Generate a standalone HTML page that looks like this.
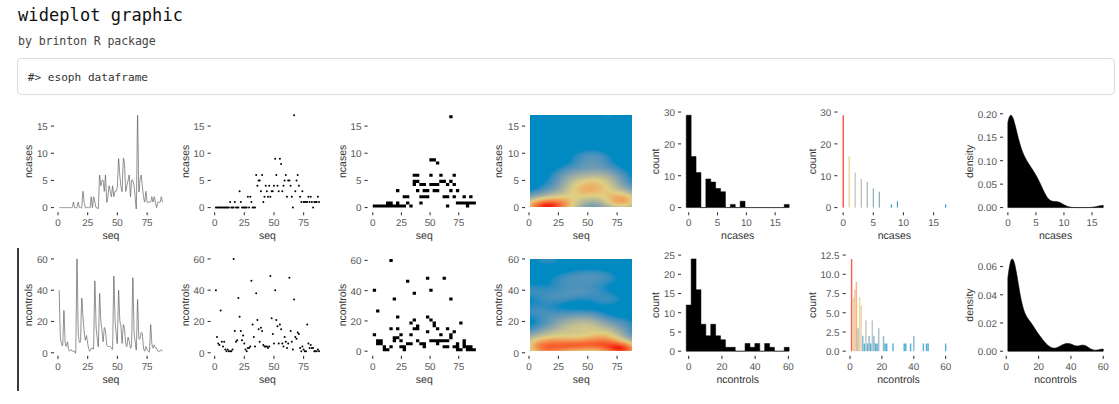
<!DOCTYPE html>
<html><head><meta charset="utf-8"><title>wideplot graphic</title>
<style>
html,body{margin:0;padding:0;background:#fff;}
body{width:1119px;height:404px;position:relative;overflow:hidden;}
h1{position:absolute;left:18px;top:7.3px;margin:0;font:normal 17px/1 "DejaVu Sans Mono","Liberation Mono",monospace;letter-spacing:0.08px;color:#111;white-space:pre;}
.sub{position:absolute;left:18px;top:36.4px;margin:0;font:11.6px/1 "DejaVu Sans Mono","Liberation Mono",monospace;letter-spacing:-0.1px;color:#444;white-space:pre;}
.code{position:absolute;left:17px;top:58px;width:1096px;height:35px;border:1px solid #dcdcdc;border-radius:4px;background:#fff;}
.code span{position:absolute;left:9.8px;top:12.5px;font:11.1px/1 "DejaVu Sans Mono","Liberation Mono",monospace;color:#333;white-space:pre;}
.vbar{position:absolute;left:17px;top:248px;width:2px;height:143px;background:#3a3a3a;}
.hm{position:absolute;display:flex;flex-direction:column;}
.hm i{display:block;flex:1 1 0;}
svg{position:absolute;left:0;top:0;}
svg text{font-family:"Liberation Sans",Arial,sans-serif;text-rendering:geometricPrecision;}
.yl{font-size:9.8px;fill:#555555;text-anchor:end;}
.xl{font-size:9.8px;fill:#555555;text-anchor:middle;}
.tt{font-size:10.5px;fill:#333333;text-anchor:middle;}
.ln{fill:none;stroke:#555;stroke-width:0.65;stroke-linejoin:round;}
</style></head><body>
<h1 id="t1">wideplot graphic</h1>
<div class="sub" id="t2">by brinton R package</div>
<div class="code"><span id="t3">#&gt; esoph dataframe</span></div>
<div class="vbar"></div>
<div class="hm" style="left:530.21px;top:115.22px;width:102.18px;height:92.36px"><i style="background:linear-gradient(90deg,#008ac2,#008ac2,#008ac2,#008ac2,#008ac2,#008ac2,#008ac2,#008ac2,#008ac2,#008ac2,#008ac2,#008ac2,#008ac2,#008ac2,#008ac2,#008ac2,#008ac2,#008ac2,#008ac2,#008ac2,#008ac2,#008ac2,#008ac2,#008ac2,#068ac2,#108bc1,#128bc1,#0e8ac2,#008ac2,#008ac2,#008ac2,#008ac2,#008ac2,#008ac2,#008ac2)"></i><i style="background:linear-gradient(90deg,#008ac2,#008ac2,#008ac2,#008ac2,#008ac2,#008ac2,#008ac2,#008ac2,#008ac2,#008ac2,#008ac2,#008ac2,#008ac2,#008ac2,#008ac2,#008ac2,#008ac2,#008ac2,#008ac2,#008ac2,#008ac2,#008ac2,#008ac2,#008ac2,#038ac2,#0d8ac2,#0f8bc1,#0a8ac2,#008ac2,#008ac2,#008ac2,#008ac2,#008ac2,#008ac2,#008ac2)"></i><i style="background:linear-gradient(90deg,#008ac2,#008ac2,#008ac2,#008ac2,#008ac2,#008ac2,#008ac2,#008ac2,#008ac2,#008ac2,#008ac2,#008ac2,#008ac2,#008ac2,#008ac2,#008ac2,#008ac2,#008ac2,#008ac2,#008ac2,#008ac2,#008ac2,#008ac2,#008ac2,#008ac2,#068ac2,#098ac2,#038ac2,#008ac2,#008ac2,#008ac2,#008ac2,#008ac2,#008ac2,#008ac2)"></i><i style="background:linear-gradient(90deg,#008ac2,#008ac2,#008ac2,#008ac2,#008ac2,#008ac2,#008ac2,#008ac2,#008ac2,#008ac2,#008ac2,#008ac2,#008ac2,#008ac2,#008ac2,#008ac2,#008ac2,#008ac2,#008ac2,#008ac2,#008ac2,#008ac2,#008ac2,#008ac2,#008ac2,#008ac2,#008ac2,#008ac2,#008ac2,#008ac2,#008ac2,#008ac2,#008ac2,#008ac2,#008ac2)"></i><i style="background:linear-gradient(90deg,#008ac2,#008ac2,#008ac2,#008ac2,#008ac2,#008ac2,#008ac2,#008ac2,#008ac2,#008ac2,#008ac2,#008ac2,#008ac2,#008ac2,#008ac2,#008ac2,#008ac2,#008ac2,#008ac2,#008ac2,#008ac2,#008ac2,#008ac2,#008ac2,#008ac2,#008ac2,#008ac2,#008ac2,#008ac2,#008ac2,#008ac2,#008ac2,#008ac2,#008ac2,#008ac2)"></i><i style="background:linear-gradient(90deg,#008ac2,#008ac2,#008ac2,#008ac2,#008ac2,#008ac2,#008ac2,#008ac2,#008ac2,#008ac2,#008ac2,#008ac2,#008ac2,#008ac2,#008ac2,#008ac2,#008ac2,#008ac2,#008ac2,#008ac2,#008ac2,#008ac2,#008ac2,#008ac2,#008ac2,#008ac2,#008ac2,#008ac2,#008ac2,#008ac2,#008ac2,#008ac2,#008ac2,#008ac2,#008ac2)"></i><i style="background:linear-gradient(90deg,#008ac2,#008ac2,#008ac2,#008ac2,#008ac2,#008ac2,#008ac2,#008ac2,#008ac2,#008ac2,#008ac2,#008ac2,#008ac2,#008ac2,#008ac2,#008ac2,#008ac2,#008ac2,#008ac2,#008ac2,#008ac2,#008ac2,#008ac2,#008ac2,#008ac2,#008ac2,#008ac2,#008ac2,#008ac2,#008ac2,#008ac2,#008ac2,#008ac2,#008ac2,#008ac2)"></i><i style="background:linear-gradient(90deg,#008ac2,#008ac2,#008ac2,#008ac2,#008ac2,#008ac2,#008ac2,#008ac2,#008ac2,#008ac2,#008ac2,#008ac2,#008ac2,#008ac2,#008ac2,#008ac2,#008ac2,#008ac2,#008ac2,#008ac2,#008ac2,#008ac2,#008ac2,#008ac2,#008ac2,#008ac2,#008ac2,#008ac2,#008ac2,#008ac2,#008ac2,#008ac2,#008ac2,#008ac2,#008ac2)"></i><i style="background:linear-gradient(90deg,#008ac2,#008ac2,#008ac2,#008ac2,#008ac2,#008ac2,#008ac2,#008ac2,#008ac2,#008ac2,#008ac2,#008ac2,#008ac2,#008ac2,#008ac2,#008ac2,#008ac2,#008ac2,#008ac2,#008ac2,#008ac2,#008ac2,#008ac2,#008ac2,#008ac2,#008ac2,#008ac2,#008ac2,#008ac2,#008ac2,#008ac2,#008ac2,#008ac2,#008ac2,#008ac2)"></i><i style="background:linear-gradient(90deg,#008ac2,#008ac2,#008ac2,#008ac2,#008ac2,#008ac2,#008ac2,#008ac2,#008ac2,#008ac2,#008ac2,#008ac2,#008ac2,#008ac2,#008ac2,#008ac2,#008ac2,#008ac2,#008ac2,#008ac2,#008ac2,#008ac2,#008ac2,#008ac2,#008ac2,#008ac2,#008ac2,#008ac2,#008ac2,#008ac2,#008ac2,#008ac2,#008ac2,#008ac2,#008ac2)"></i><i style="background:linear-gradient(90deg,#008ac2,#008ac2,#008ac2,#008ac2,#008ac2,#008ac2,#008ac2,#008ac2,#008ac2,#008ac2,#008ac2,#008ac2,#008ac2,#008ac2,#008ac2,#008ac2,#008ac2,#008ac2,#008ac2,#008ac2,#008ac2,#008ac2,#008ac2,#008ac2,#008ac2,#008ac2,#008ac2,#008ac2,#008ac2,#008ac2,#008ac2,#008ac2,#008ac2,#008ac2,#008ac2)"></i><i style="background:linear-gradient(90deg,#008ac2,#008ac2,#008ac2,#008ac2,#008ac2,#008ac2,#008ac2,#008ac2,#008ac2,#008ac2,#008ac2,#008ac2,#008ac2,#008ac2,#008ac2,#008ac2,#008ac2,#008ac2,#008ac2,#008ac2,#008ac2,#008ac2,#008ac2,#008ac2,#008ac2,#008ac2,#008ac2,#008ac2,#008ac2,#008ac2,#008ac2,#008ac2,#008ac2,#008ac2,#008ac2)"></i><i style="background:linear-gradient(90deg,#008ac2,#008ac2,#008ac2,#008ac2,#008ac2,#008ac2,#008ac2,#008ac2,#008ac2,#008ac2,#008ac2,#008ac2,#008ac2,#008ac2,#008ac2,#008ac2,#008ac2,#008ac2,#008ac2,#008ac2,#008ac2,#008ac2,#008ac2,#008ac2,#008ac2,#008ac2,#008ac2,#008ac2,#008ac2,#008ac2,#008ac2,#008ac2,#008ac2,#008ac2,#008ac2)"></i><i style="background:linear-gradient(90deg,#008ac2,#008ac2,#008ac2,#008ac2,#008ac2,#008ac2,#008ac2,#008ac2,#008ac2,#008ac2,#008ac2,#008ac2,#008ac2,#008ac2,#008ac2,#008ac2,#008ac2,#008ac2,#008ac2,#008ac2,#008ac2,#008ac2,#008ac2,#008ac2,#008ac2,#008ac2,#008ac2,#008ac2,#008ac2,#008ac2,#008ac2,#008ac2,#008ac2,#008ac2,#008ac2)"></i><i style="background:linear-gradient(90deg,#008ac2,#008ac2,#008ac2,#008ac2,#008ac2,#008ac2,#008ac2,#008ac2,#008ac2,#008ac2,#008ac2,#008ac2,#008ac2,#008ac2,#008ac2,#008ac2,#008ac2,#008ac2,#008ac2,#008ac2,#008ac2,#008ac2,#008ac2,#008ac2,#008ac2,#008ac2,#008ac2,#008ac2,#008ac2,#008ac2,#008ac2,#008ac2,#008ac2,#008ac2,#008ac2)"></i><i style="background:linear-gradient(90deg,#008ac2,#008ac2,#008ac2,#008ac2,#008ac2,#008ac2,#008ac2,#008ac2,#008ac2,#008ac2,#008ac2,#008ac2,#008ac2,#008ac2,#008ac2,#008ac2,#008ac2,#008ac2,#008ac2,#008ac2,#008ac2,#008ac2,#008ac2,#008ac2,#008ac2,#008ac2,#008ac2,#008ac2,#008ac2,#008ac2,#008ac2,#008ac2,#008ac2,#008ac2,#008ac2)"></i><i style="background:linear-gradient(90deg,#008ac2,#008ac2,#008ac2,#008ac2,#008ac2,#008ac2,#008ac2,#008ac2,#008ac2,#008ac2,#008ac2,#008ac2,#008ac2,#008ac2,#008ac2,#008ac2,#008ac2,#008ac2,#008ac2,#008ac2,#008ac2,#008ac2,#008ac2,#008ac2,#008ac2,#008ac2,#008ac2,#008ac2,#008ac2,#008ac2,#008ac2,#008ac2,#008ac2,#008ac2,#008ac2)"></i><i style="background:linear-gradient(90deg,#008ac2,#008ac2,#008ac2,#008ac2,#008ac2,#008ac2,#008ac2,#008ac2,#008ac2,#008ac2,#008ac2,#008ac2,#008ac2,#008ac2,#008ac2,#008ac2,#008ac2,#008ac2,#008ac2,#008ac2,#008ac2,#008ac2,#008ac2,#008ac2,#008ac2,#008ac2,#008ac2,#008ac2,#008ac2,#008ac2,#008ac2,#008ac2,#008ac2,#008ac2,#008ac2)"></i><i style="background:linear-gradient(90deg,#008ac2,#008ac2,#008ac2,#008ac2,#008ac2,#008ac2,#008ac2,#008ac2,#008ac2,#008ac2,#008ac2,#008ac2,#008ac2,#008ac2,#008ac2,#008ac2,#008ac2,#008ac2,#008ac2,#008ac2,#008ac2,#008ac2,#008ac2,#008ac2,#008ac2,#008ac2,#008ac2,#008ac2,#008ac2,#008ac2,#008ac2,#008ac2,#008ac2,#008ac2,#008ac2)"></i><i style="background:linear-gradient(90deg,#008ac2,#008ac2,#008ac2,#008ac2,#008ac2,#008ac2,#008ac2,#008ac2,#008ac2,#008ac2,#008ac2,#008ac2,#008ac2,#008ac2,#008ac2,#008ac2,#008ac2,#008ac2,#008ac2,#008ac2,#008ac2,#008ac2,#008ac2,#008ac2,#008ac2,#008ac2,#008ac2,#008ac2,#008ac2,#008ac2,#008ac2,#008ac2,#008ac2,#008ac2,#008ac2)"></i><i style="background:linear-gradient(90deg,#008ac2,#008ac2,#008ac2,#008ac2,#008ac2,#008ac2,#008ac2,#008ac2,#008ac2,#008ac2,#008ac2,#008ac2,#008ac2,#008ac2,#008ac2,#008ac2,#008ac2,#008ac2,#008ac2,#008ac2,#008ac2,#008ac2,#008ac2,#008ac2,#008ac2,#008ac2,#008ac2,#008ac2,#008ac2,#008ac2,#008ac2,#008ac2,#008ac2,#008ac2,#008ac2)"></i><i style="background:linear-gradient(90deg,#008ac2,#008ac2,#008ac2,#008ac2,#008ac2,#008ac2,#008ac2,#008ac2,#008ac2,#008ac2,#008ac2,#008ac2,#008ac2,#008ac2,#008ac2,#008ac2,#008ac2,#008ac2,#008ac2,#008ac2,#008ac2,#008ac2,#008ac2,#008ac2,#008ac2,#008ac2,#008ac2,#008ac2,#008ac2,#008ac2,#008ac2,#008ac2,#008ac2,#008ac2,#008ac2)"></i><i style="background:linear-gradient(90deg,#008ac2,#008ac2,#008ac2,#008ac2,#008ac2,#008ac2,#008ac2,#008ac2,#008ac2,#008ac2,#008ac2,#008ac2,#008ac2,#008ac2,#008ac2,#008ac2,#008ac2,#008ac2,#008ac2,#008ac2,#008ac2,#008ac2,#008ac2,#008ac2,#008ac2,#008ac2,#008ac2,#008ac2,#008ac2,#008ac2,#008ac2,#008ac2,#008ac2,#008ac2,#008ac2)"></i><i style="background:linear-gradient(90deg,#008ac2,#008ac2,#008ac2,#008ac2,#008ac2,#008ac2,#008ac2,#008ac2,#008ac2,#008ac2,#008ac2,#008ac2,#008ac2,#008ac2,#008ac2,#008ac2,#008ac2,#008ac2,#008ac2,#008ac2,#008ac2,#008ac2,#008ac2,#008ac2,#008ac2,#008ac2,#008ac2,#008ac2,#008ac2,#008ac2,#008ac2,#008ac2,#008ac2,#008ac2,#008ac2)"></i><i style="background:linear-gradient(90deg,#008ac2,#008ac2,#008ac2,#008ac2,#008ac2,#008ac2,#008ac2,#008ac2,#008ac2,#008ac2,#008ac2,#008ac2,#008ac2,#008ac2,#008ac2,#008ac2,#008ac2,#008ac2,#008ac2,#008ac2,#008ac2,#008ac2,#008ac2,#008ac2,#008ac2,#008ac2,#008ac2,#008ac2,#008ac2,#008ac2,#008ac2,#008ac2,#008ac2,#008ac2,#008ac2)"></i><i style="background:linear-gradient(90deg,#008ac2,#008ac2,#008ac2,#008ac2,#008ac2,#008ac2,#008ac2,#008ac2,#008ac2,#008ac2,#008ac2,#008ac2,#008ac2,#008ac2,#008ac2,#008ac2,#008ac2,#008ac2,#008ac2,#008ac2,#008ac2,#008ac2,#008ac2,#008ac2,#008ac2,#008ac2,#008ac2,#008ac2,#008ac2,#008ac2,#008ac2,#008ac2,#008ac2,#008ac2,#008ac2)"></i><i style="background:linear-gradient(90deg,#008ac2,#008ac2,#008ac2,#008ac2,#008ac2,#008ac2,#008ac2,#008ac2,#008ac2,#008ac2,#008ac2,#008ac2,#008ac2,#008ac2,#008ac2,#008ac2,#008ac2,#008ac2,#008ac2,#008ac2,#008ac2,#008ac2,#008ac2,#008ac2,#008ac2,#008ac2,#008ac2,#008ac2,#008ac2,#008ac2,#008ac2,#008ac2,#008ac2,#008ac2,#008ac2)"></i><i style="background:linear-gradient(90deg,#008ac2,#008ac2,#008ac2,#008ac2,#008ac2,#008ac2,#008ac2,#008ac2,#008ac2,#008ac2,#008ac2,#008ac2,#008ac2,#008ac2,#008ac2,#008ac2,#008ac2,#008ac2,#008ac2,#008ac2,#008ac2,#008ac2,#008ac2,#008ac2,#008ac2,#008ac2,#008ac2,#008ac2,#008ac2,#008ac2,#008ac2,#008ac2,#008ac2,#008ac2,#008ac2)"></i><i style="background:linear-gradient(90deg,#008ac2,#008ac2,#008ac2,#008ac2,#008ac2,#008ac2,#008ac2,#008ac2,#008ac2,#008ac2,#008ac2,#008ac2,#008ac2,#008ac2,#008ac2,#008ac2,#008ac2,#008ac2,#008ac2,#008ac2,#008ac2,#008ac2,#008ac2,#008ac2,#008ac2,#008ac2,#008ac2,#008ac2,#008ac2,#008ac2,#008ac2,#008ac2,#008ac2,#008ac2,#008ac2)"></i><i style="background:linear-gradient(90deg,#008ac2,#008ac2,#008ac2,#008ac2,#008ac2,#008ac2,#008ac2,#008ac2,#008ac2,#008ac2,#008ac2,#008ac2,#008ac2,#008ac2,#008ac2,#008ac2,#008ac2,#008ac2,#008ac2,#008ac2,#008ac2,#008ac2,#008ac2,#008ac2,#008ac2,#008ac2,#008ac2,#008ac2,#008ac2,#008ac2,#008ac2,#008ac2,#008ac2,#008ac2,#008ac2)"></i><i style="background:linear-gradient(90deg,#008ac2,#008ac2,#008ac2,#008ac2,#008ac2,#008ac2,#008ac2,#008ac2,#008ac2,#008ac2,#008ac2,#008ac2,#008ac2,#008ac2,#008ac2,#008ac2,#008ac2,#008ac2,#008ac2,#008ac2,#008ac2,#008ac2,#008ac2,#008ac2,#008ac2,#008ac2,#008ac2,#008ac2,#008ac2,#008ac2,#008ac2,#008ac2,#008ac2,#008ac2,#008ac2)"></i><i style="background:linear-gradient(90deg,#008ac2,#008ac2,#008ac2,#008ac2,#008ac2,#008ac2,#008ac2,#008ac2,#008ac2,#008ac2,#008ac2,#008ac2,#008ac2,#008ac2,#008ac2,#008ac2,#008ac2,#008ac2,#008ac2,#008ac2,#008ac2,#008ac2,#008ac2,#008ac2,#008ac2,#008ac2,#008ac2,#008ac2,#008ac2,#008ac2,#008ac2,#008ac2,#008ac2,#008ac2,#008ac2)"></i><i style="background:linear-gradient(90deg,#008ac2,#008ac2,#008ac2,#008ac2,#008ac2,#008ac2,#008ac2,#008ac2,#008ac2,#008ac2,#008ac2,#008ac2,#008ac2,#008ac2,#008ac2,#008ac2,#008ac2,#008ac2,#008ac2,#008ac2,#008ac2,#008ac2,#008ac2,#008ac2,#008ac2,#008ac2,#008ac2,#008ac2,#008ac2,#008ac2,#008ac2,#008ac2,#008ac2,#008ac2,#008ac2)"></i><i style="background:linear-gradient(90deg,#008ac2,#008ac2,#008ac2,#008ac2,#008ac2,#008ac2,#008ac2,#008ac2,#008ac2,#008ac2,#008ac2,#008ac2,#008ac2,#008ac2,#008ac2,#008ac2,#008ac2,#008ac2,#008ac2,#008ac2,#008ac2,#008ac2,#008ac2,#008ac2,#008ac2,#008ac2,#008ac2,#008ac2,#008ac2,#008ac2,#008ac2,#008ac2,#008ac2,#008ac2,#008ac2)"></i><i style="background:linear-gradient(90deg,#008ac2,#008ac2,#008ac2,#008ac2,#008ac2,#008ac2,#008ac2,#008ac2,#008ac2,#008ac2,#008ac2,#008ac2,#008ac2,#008ac2,#008ac2,#008ac2,#008ac2,#008ac2,#008ac2,#008ac2,#008ac2,#008ac2,#008ac2,#008ac2,#008ac2,#008ac2,#008ac2,#008ac2,#008ac2,#008ac2,#008ac2,#008ac2,#008ac2,#008ac2,#008ac2)"></i><i style="background:linear-gradient(90deg,#008ac2,#008ac2,#008ac2,#008ac2,#008ac2,#008ac2,#008ac2,#008ac2,#008ac2,#008ac2,#008ac2,#008ac2,#008ac2,#008ac2,#008ac2,#008ac2,#008ac2,#008ac2,#078ac2,#158bc1,#198bc1,#198bc1,#148bc1,#068ac2,#008ac2,#008ac2,#008ac2,#008ac2,#008ac2,#008ac2,#008ac2,#008ac2,#008ac2,#008ac2,#008ac2)"></i><i style="background:linear-gradient(90deg,#008ac2,#008ac2,#008ac2,#008ac2,#008ac2,#008ac2,#008ac2,#008ac2,#008ac2,#008ac2,#008ac2,#008ac2,#008ac2,#008ac2,#008ac2,#008ac2,#008ac2,#0d8ac2,#1d8bc1,#258cc0,#298dc0,#298dc0,#258cc0,#1c8bc1,#0c8ac2,#008ac2,#008ac2,#008ac2,#008ac2,#008ac2,#008ac2,#008ac2,#008ac2,#008ac2,#008ac2)"></i><i style="background:linear-gradient(90deg,#008ac2,#008ac2,#008ac2,#008ac2,#008ac2,#008ac2,#008ac2,#008ac2,#008ac2,#008ac2,#008ac2,#008ac2,#008ac2,#008ac2,#008ac2,#008ac2,#078ac2,#1e8cc1,#2a8dc0,#318ebf,#348ebe,#348ebe,#318ebf,#2a8dc0,#1e8bc1,#078ac2,#008ac2,#008ac2,#008ac2,#008ac2,#008ac2,#008ac2,#008ac2,#008ac2,#008ac2)"></i><i style="background:linear-gradient(90deg,#008ac2,#008ac2,#008ac2,#008ac2,#008ac2,#008ac2,#008ac2,#008ac2,#008ac2,#008ac2,#008ac2,#008ac2,#008ac2,#008ac2,#008ac2,#008ac2,#198bc1,#298dc0,#348ebf,#3a8fbe,#3e8fbd,#3e8fbd,#3b8fbe,#348ebf,#2a8dc0,#198bc1,#008ac2,#008ac2,#008ac2,#008ac2,#008ac2,#008ac2,#008ac2,#008ac2,#008ac2)"></i><i style="background:linear-gradient(90deg,#008ac2,#008ac2,#008ac2,#008ac2,#008ac2,#008ac2,#008ac2,#008ac2,#008ac2,#008ac2,#008ac2,#008ac2,#008ac2,#008ac2,#008ac2,#0a8ac2,#248cc0,#328ebf,#3c8fbd,#4390bc,#4691bc,#4691bc,#4390bc,#3d8fbd,#338ebf,#258cc0,#0c8ac2,#008ac2,#008ac2,#008ac2,#008ac2,#008ac2,#008ac2,#008ac2,#008ac2)"></i><i style="background:linear-gradient(90deg,#008ac2,#008ac2,#008ac2,#008ac2,#008ac2,#008ac2,#008ac2,#008ac2,#008ac2,#008ac2,#008ac2,#008ac2,#008ac2,#008ac2,#008ac2,#178bc1,#2b8dc0,#398fbe,#4390bc,#4992bb,#4d92bb,#4d92bb,#4a92bb,#4491bc,#3a8fbe,#2d8dbf,#1a8bc1,#008ac2,#008ac2,#008ac2,#008ac2,#008ac2,#008ac2,#008ac2,#008ac2)"></i><i style="background:linear-gradient(90deg,#008ac2,#008ac2,#008ac2,#008ac2,#008ac2,#008ac2,#008ac2,#008ac2,#008ac2,#008ac2,#008ac2,#008ac2,#008ac2,#008ac2,#008ac2,#1f8cc1,#318ebf,#3f90bd,#4891bb,#4f93ba,#5394b9,#5394b9,#5093ba,#4a92bb,#4090bd,#348ebf,#228cc0,#018ac2,#008ac2,#008ac2,#008ac2,#008ac2,#008ac2,#008ac2,#008ac2)"></i><i style="background:linear-gradient(90deg,#008ac2,#008ac2,#008ac2,#008ac2,#008ac2,#008ac2,#008ac2,#008ac2,#008ac2,#008ac2,#008ac2,#008ac2,#008ac2,#008ac2,#078ac2,#258cc0,#368ebe,#4390bc,#4d92bb,#5494b9,#5795b8,#5895b8,#5594b9,#4f93ba,#4591bc,#398fbe,#298dc0,#0f8bc2,#008ac2,#008ac2,#008ac2,#008ac2,#008ac2,#008ac2,#008ac2)"></i><i style="background:linear-gradient(90deg,#008ac2,#008ac2,#008ac2,#008ac2,#008ac2,#008ac2,#008ac2,#008ac2,#008ac2,#008ac2,#008ac2,#008ac2,#008ac2,#008ac2,#118bc1,#2a8dc0,#3a8fbe,#4791bc,#5193ba,#5795b8,#5b96b8,#5c96b8,#5995b8,#5394b9,#4a92bb,#3d8fbd,#2e8dbf,#178bc1,#008ac2,#008ac2,#008ac2,#008ac2,#008ac2,#008ac2,#008ac2)"></i><i style="background:linear-gradient(90deg,#008ac2,#008ac2,#008ac2,#008ac2,#008ac2,#008ac2,#008ac2,#008ac2,#008ac2,#008ac2,#008ac2,#008ac2,#008ac2,#008ac2,#188bc1,#2e8dbf,#3d8fbd,#4a92bb,#5394b9,#5a96b8,#5e97b7,#5f97b7,#5c96b7,#5694b9,#4d92bb,#4190bd,#328ebf,#1e8bc1,#008ac2,#008ac2,#008ac2,#008ac2,#008ac2,#008ac2,#008ac2)"></i><i style="background:linear-gradient(90deg,#008ac2,#008ac2,#008ac2,#008ac2,#008ac2,#008ac2,#008ac2,#008ac2,#008ac2,#008ac2,#008ac2,#008ac2,#008ac2,#008ac2,#1d8bc1,#318ebf,#4090bd,#4c92bb,#5594b9,#5c96b7,#6097b6,#6197b6,#5e97b7,#5895b8,#5093ba,#4491bc,#368ebe,#238cc0,#018ac2,#008ac2,#008ac2,#008ac2,#008ac2,#008ac2,#008ac2)"></i><i style="background:linear-gradient(90deg,#008ac2,#008ac2,#008ac2,#008ac2,#008ac2,#008ac2,#008ac2,#008ac2,#008ac2,#008ac2,#008ac2,#008ac2,#008ac2,#048ac2,#238cc0,#348ebe,#4290bc,#4e93ba,#5795b9,#5e96b7,#6297b6,#6298b6,#6097b7,#5a96b8,#5294ba,#4791bc,#398fbe,#288cc0,#0d8ac2,#008ac2,#008ac2,#008ac2,#008ac2,#008ac2,#008ac2)"></i><i style="background:linear-gradient(90deg,#008ac2,#008ac2,#008ac2,#008ac2,#008ac2,#008ac2,#008ac2,#008ac2,#008ac2,#008ac2,#008ac2,#008ac2,#008ac2,#128bc1,#288cc0,#388fbe,#4591bc,#5093ba,#5995b8,#5f97b7,#6398b6,#6498b6,#6197b6,#5c96b7,#5494b9,#4a92bb,#3d8fbd,#2d8dbf,#178bc1,#008ac2,#008ac2,#008ac2,#008ac2,#008ac2,#008ac2)"></i><i style="background:linear-gradient(90deg,#008ac2,#008ac2,#008ac2,#008ac2,#008ac2,#008ac2,#008ac2,#008ac2,#008ac2,#008ac2,#008ac2,#008ac2,#008ac2,#1d8bc1,#2e8dbf,#3c8fbd,#4891bb,#5294ba,#5a96b8,#6197b6,#6498b5,#6598b5,#6398b6,#5e97b7,#5795b9,#4d92bb,#4190bd,#328ebf,#1f8cc1,#008ac2,#008ac2,#008ac2,#008ac2,#008ac2,#008ac2)"></i><i style="background:linear-gradient(90deg,#008ac2,#008ac2,#008ac2,#008ac2,#008ac2,#008ac2,#008ac2,#008ac2,#008ac2,#008ac2,#008ac2,#008ac2,#128bc1,#278cc0,#358ebe,#4190bd,#4c92bb,#5594b9,#5d96b7,#6298b6,#6699b5,#6799b5,#6599b5,#6197b6,#5a95b8,#5193ba,#4591bc,#388fbe,#278cc0,#0e8ac2,#008ac2,#008ac2,#008ac2,#008ac2,#008ac2)"></i><i style="background:linear-gradient(90deg,#008ac2,#008ac2,#008ac2,#008ac2,#008ac2,#008ac2,#008ac2,#008ac2,#008ac2,#008ac2,#008ac2,#088ac2,#218cc0,#308dbf,#3c8fbd,#4791bc,#5193ba,#5995b8,#6097b7,#6598b5,#6899b4,#699ab4,#6899b5,#6498b6,#5e96b7,#5594b9,#4b92bb,#3e90bd,#2f8dbf,#1c8bc1,#008ac2,#008ac2,#008ac2,#008ac2,#008ac2)"></i><i style="background:linear-gradient(90deg,#008ac2,#008ac2,#008ac2,#008ac2,#008ac2,#008ac2,#008ac2,#008ac2,#008ac2,#008ac2,#008ac2,#1c8bc1,#2d8dbf,#3a8fbe,#4491bc,#4e93ba,#5695b9,#5e96b7,#6498b6,#699ab4,#6c9ab4,#6d9bb3,#6c9ab4,#6899b4,#6298b6,#5b96b8,#5193ba,#4591bc,#388fbe,#278cc0,#0d8ac2,#008ac2,#008ac2,#008ac2,#008ac2)"></i><i style="background:linear-gradient(90deg,#008ac2,#008ac2,#008ac2,#008ac2,#008ac2,#008ac2,#008ac2,#008ac2,#008ac2,#008ac2,#168bc1,#2a8dc0,#388ebe,#4390bc,#4d92bb,#5594b9,#5d96b7,#6398b6,#699ab4,#6d9bb3,#709cb2,#719cb2,#709cb2,#6d9bb3,#6899b4,#6197b6,#5895b8,#4d92bb,#4090bd,#318ebf,#1e8bc1,#008ac2,#008ac2,#008ac2,#008ac2)"></i><i style="background:linear-gradient(90deg,#008ac2,#008ac2,#008ac2,#008ac2,#008ac2,#008ac2,#008ac2,#008ac2,#008ac2,#098ac2,#258cc0,#358ebe,#4290bd,#4c92bb,#5694b9,#5d96b7,#6498b5,#6a9ab4,#6f9bb3,#739db1,#769eb1,#779eb0,#769eb0,#749db1,#6f9bb3,#6899b4,#6097b7,#5594b9,#4992bb,#3b8fbe,#2a8dc0,#108bc1,#008ac2,#008ac2,#008ac2)"></i><i style="background:linear-gradient(90deg,#008ac2,#008ac2,#008ac2,#008ac2,#008ac2,#008ac2,#008ac2,#008ac2,#008ac2,#1c8bc1,#308dbf,#3f90bd,#4b92bb,#5694b9,#5f97b7,#6699b5,#6c9bb3,#729cb2,#769eb1,#7a9faf,#7ca0af,#7da0ae,#7da0ae,#7b9faf,#779eb0,#709cb2,#6899b4,#5e97b7,#5294ba,#4491bc,#348ebe,#208cc1,#008ac2,#008ac2,#008ac2)"></i><i style="background:linear-gradient(90deg,#008ac2,#008ac2,#008ac2,#008ac2,#008ac2,#008ac2,#008ac2,#008ac2,#098ac2,#288cc0,#3a8fbe,#4891bb,#5594b9,#5f97b7,#6899b5,#6f9bb3,#759db1,#7a9faf,#7ea1ae,#81a2ad,#84a3ac,#85a3ac,#85a3ac,#83a2ac,#7fa1ae,#799fb0,#719cb2,#6799b5,#5b96b8,#4d93bb,#3e8fbd,#2b8dc0,#0f8bc2,#008ac2,#008ac2)"></i><i style="background:linear-gradient(90deg,#008ac2,#008ac2,#008ac2,#008ac2,#008ac2,#008ac2,#008ac2,#008ac2,#198bc1,#318ebf,#4290bc,#5193ba,#5d96b7,#6899b5,#719cb2,#789eb0,#7ea0ae,#82a2ad,#86a4ab,#89a5aa,#8ca6a9,#8da6a9,#8ea6a9,#8ca6a9,#88a4ab,#82a2ad,#7a9faf,#709cb2,#6498b5,#5695b9,#4791bc,#348ebe,#1d8bc1,#008ac2,#008ac2)"></i><i style="background:linear-gradient(90deg,#008ac2,#008ac2,#008ac2,#008ac2,#008ac2,#008ac2,#008ac2,#008ac2,#248cc0,#398fbe,#4a92bb,#5995b8,#6699b5,#709cb2,#799fb0,#81a2ad,#86a4ab,#8ba6aa,#8fa7a8,#92a8a7,#95a9a6,#96aaa6,#97aaa5,#95aaa6,#92a8a7,#8ca6a9,#84a3ac,#799fb0,#6d9bb3,#5f97b7,#4f93ba,#3d8fbd,#278cc0,#018ac2,#008ac2)"></i><i style="background:linear-gradient(90deg,#008ac2,#008ac2,#008ac2,#008ac2,#008ac2,#008ac2,#008ac2,#0c8ac2,#2c8dbf,#4090bd,#5193ba,#6097b6,#6d9bb3,#799fb0,#82a2ad,#89a5aa,#8fa7a8,#94a9a6,#98aba5,#9baca4,#9eada3,#a0aea2,#a0aea2,#9faea2,#9baca4,#95aaa6,#8da6a9,#82a2ad,#759eb1,#6799b5,#5695b9,#4491bc,#308dbf,#138bc1,#008ac2)"></i><i style="background:linear-gradient(90deg,#008ac2,#008ac2,#008ac2,#008ac2,#008ac2,#008ac2,#008ac2,#188bc1,#328ebf,#4691bc,#5895b8,#6799b5,#759db1,#80a1ad,#8aa5aa,#92a8a7,#98aba5,#9dada3,#a1afa1,#a5b0a0,#a7b29f,#a9b39e,#aab39e,#a8b29e,#a5b0a0,#9faea2,#96aaa6,#8ba5aa,#7da0ae,#6e9bb3,#5e96b7,#4b92bb,#378ebe,#1d8bc1,#008ac2)"></i><i style="background:linear-gradient(90deg,#008ac2,#008ac2,#008ac2,#008ac2,#008ac2,#008ac2,#008ac2,#208cc1,#388fbe,#4c92bb,#5d96b7,#6d9bb3,#7ba0af,#88a4ab,#92a8a7,#9aaca4,#a1afa1,#a6b19f,#abb39d,#aeb59c,#b1b69a,#b3b79a,#b3b799,#b2b79a,#aeb59c,#a8b29f,#9faea2,#93a9a7,#85a3ac,#759eb1,#6498b5,#5293ba,#3d8fbd,#258cc0,#008ac2)"></i><i style="background:linear-gradient(90deg,#008ac2,#008ac2,#008ac2,#008ac2,#008ac2,#008ac2,#008ac2,#268cc0,#3d8fbd,#5193ba,#6398b6,#739db1,#82a2ad,#8ea7a8,#99aba4,#a2afa1,#a9b39e,#afb59b,#b4b899,#b7b997,#babb96,#bcbc95,#bdbc95,#bbbb96,#b7b998,#b0b69b,#a7b19f,#9baca4,#8ca6a9,#7ca0af,#6a9ab4,#5895b8,#4390bc,#2c8dbf,#068ac2)"></i><i style="background:linear-gradient(90deg,#008ac2,#008ac2,#008ac2,#008ac2,#008ac2,#008ac2,#078ac2,#2b8dbf,#4290bd,#5594b9,#6799b5,#789fb0,#87a4ab,#95a9a6,#a0aea2,#aab39e,#b2b79a,#b8ba97,#bdbc95,#c1be93,#c4c092,#c5c191,#c6c191,#c4c091,#bfbd94,#b8ba97,#aeb59c,#a2afa1,#93a9a7,#82a2ad,#709cb2,#5d96b7,#4991bb,#328ebf,#138bc1)"></i><i style="background:linear-gradient(90deg,#008ac2,#008ac2,#008ac2,#008ac2,#008ac2,#008ac2,#138bc1,#308dbf,#4691bc,#5a95b8,#6c9ab3,#7da0ae,#8da6a9,#9baca4,#a7b19f,#b1b69a,#b9ba97,#c0be93,#c5c191,#cac38f,#cdc48d,#cec58c,#cec58c,#ccc48d,#c7c290,#c0be94,#b5b898,#a8b29e,#99aba5,#88a4ab,#759eb1,#6298b6,#4e93ba,#388ebe,#1c8bc1)"></i><i style="background:linear-gradient(90deg,#008ac2,#008ac2,#008ac2,#008ac2,#008ac2,#008ac2,#1b8bc1,#358ebe,#4a92bb,#5d96b7,#709cb2,#81a2ad,#91a8a7,#a0aea2,#adb49c,#b8ba97,#c1be93,#c8c28f,#cec58c,#d2c78a,#d5c988,#d7ca87,#d6ca88,#d4c889,#cec58c,#c6c190,#bcbb96,#aeb59c,#9eaea2,#8da6a9,#7a9faf,#6799b5,#5394b9,#3d8fbd,#248cc0)"></i><i style="background:linear-gradient(90deg,#008ac2,#008ac2,#008ac2,#008ac2,#008ac2,#008ac2,#228cc0,#3a8fbe,#4e93ba,#6197b6,#749db1,#85a3ac,#96aaa6,#a5b1a0,#b3b79a,#bebd94,#c8c28f,#d0c68b,#d6c988,#dacc85,#ddcd84,#dece83,#dece83,#dbcc85,#d5c988,#ccc48d,#c1be93,#b3b799,#a3b0a0,#92a8a7,#7fa1ae,#6c9ab4,#5795b8,#4290bc,#2b8dc0)"></i><i style="background:linear-gradient(90deg,#008ac2,#008ac2,#008ac2,#008ac2,#008ac2,#058ac2,#288cc0,#3e90bd,#5294ba,#6598b5,#779eb0,#89a5aa,#9aaca4,#aab39e,#b8ba97,#c5c091,#cfc68c,#d7ca87,#ddce83,#e1cd80,#e2ca7e,#e3c97d,#e2ca7e,#e0ce81,#dbcc85,#d2c78a,#c6c190,#b8ba97,#a8b29e,#96aaa6,#84a3ac,#709cb2,#5c96b7,#4891bc,#328ebf)"></i><i style="background:linear-gradient(90deg,#008ac2,#008ac2,#008ac2,#008ac2,#008ac2,#148bc1,#2f8dbf,#4390bc,#5695b9,#699ab4,#7ba0af,#8da6a9,#9eaea2,#aeb59c,#bdbc95,#cac38e,#d5c988,#dece83,#e2ca7e,#e4c57a,#e5c377,#e5c277,#e5c478,#e3c87c,#e0cf82,#d6ca88,#cac38e,#bcbc95,#acb49d,#9baca4,#88a4ab,#759eb1,#6298b6,#4e93ba,#398fbe)"></i><i style="background:linear-gradient(90deg,#008ac2,#008ac2,#008ac2,#008ac2,#008ac2,#1f8cc1,#358ebe,#4891bb,#5b96b8,#6d9bb3,#7fa1ae,#91a8a8,#a2afa1,#b3b79a,#c2bf92,#cfc68b,#dbcc85,#e2cb7e,#e5c478,#e7bf74,#e7bc72,#e7bc72,#e7bf74,#e5c478,#e2cb7f,#dacc85,#cec58c,#c0be93,#b0b69b,#9faea2,#8da6a9,#7b9faf,#6899b5,#5594b9,#4190bd)"></i><i style="background:linear-gradient(90deg,#008ac2,#008ac2,#008ac2,#008ac2,#0c8ac2,#298dc0,#3c8fbd,#4e93ba,#5f97b7,#719cb2,#83a2ad,#94a9a6,#a6b19f,#b7b998,#c6c190,#d4c889,#e0cf82,#e4c579,#e7be73,#e9b96f,#e9b76d,#e9b76d,#e8ba70,#e6c075,#e3c87b,#ddce84,#d2c78a,#c4c091,#b5b899,#a4b0a0,#93a9a7,#81a2ad,#6e9bb3,#5c96b7,#4992bb)"></i><i style="background:linear-gradient(90deg,#008ac2,#008ac2,#008ac2,#008ac2,#1c8bc1,#328ebf,#4390bc,#5494b9,#6598b5,#769eb1,#87a4ab,#98aba5,#aab39e,#babb96,#cac38e,#d8cb86,#e2ca7e,#e6c075,#e9b96f,#eab46b,#ebb269,#eab36a,#e9b76d,#e7bd72,#e4c579,#e0cf82,#d5c989,#c7c290,#b9ba97,#a9b29e,#98aba5,#87a4ab,#769eb1,#6498b6,#5294ba)"></i><i style="background:linear-gradient(90deg,#008ac2,#008ac2,#008ac2,#0f8bc2,#288cc0,#3b8fbe,#4b92bb,#5b96b8,#6a9ab4,#7b9faf,#8ba6aa,#9cada3,#adb59c,#bebd94,#cec58c,#dccd84,#e4c67a,#e7bc72,#eab56b,#ebb067,#ebaf66,#ebb067,#eab46b,#e8ba70,#e5c377,#e1cc80,#d8ca87,#cbc48e,#bdbc95,#afb59c,#9faea2,#8fa7a8,#7ea1ae,#6d9bb3,#5c96b8)"></i><i style="background:linear-gradient(90deg,#008ac2,#008ac2,#008ac2,#218cc0,#348ebf,#4491bc,#5394b9,#6298b6,#719cb2,#80a1ad,#90a8a8,#a1afa2,#b1b69a,#c1be93,#d1c78b,#dfce83,#e5c378,#e8b96f,#ebb269,#ecae65,#ecad65,#ecaf66,#eab36a,#e8b96f,#e6c176,#e2cb7e,#dacc85,#cfc68c,#c2bf92,#b5b899,#a6b19f,#97aaa5,#87a4ab,#779eb0,#6699b5)"></i><i style="background:linear-gradient(90deg,#008ac2,#008ac2,#1b8bc1,#2f8dbf,#3f90bd,#4d93ba,#5c96b8,#6a9ab4,#789eb0,#86a4ab,#95aaa6,#a5b1a0,#b5b899,#c5c091,#d4c889,#e1ce81,#e6c176,#e9b76e,#ebb168,#ecad65,#ecac64,#ecae66,#eab36a,#e8b96f,#e6c075,#e3c97d,#ddcd84,#d3c88a,#c8c28f,#bcbb95,#aeb59c,#a0aea2,#91a8a7,#82a2ad,#719cb2)"></i><i style="background:linear-gradient(90deg,#008ac2,#168bc1,#2c8dbf,#3c8fbd,#4a92bb,#5895b8,#6598b5,#729db2,#80a1ae,#8da6a9,#9baca4,#aab39d,#b9ba97,#c8c28f,#d6ca88,#e1cc7f,#e6c075,#e9b76d,#ebb168,#ecad65,#ecad65,#ebb067,#eab46b,#e8ba70,#e6c075,#e3c87c,#dfcf82,#d7ca87,#cec58c,#c3bf92,#b7b997,#aab39d,#9cada3,#8da6a9,#7da0ae)"></i><i style="background:linear-gradient(90deg,#148bc1,#2a8dc0,#3b8fbe,#4992bb,#5695b9,#6398b6,#709cb2,#7ca0af,#88a4ab,#95aaa6,#a2afa1,#afb69b,#bdbc95,#cbc38e,#d8cb87,#e2cb7e,#e6c075,#e9b86e,#ebb269,#ebb067,#ebb067,#ebb269,#e9b66d,#e8bb71,#e6c176,#e3c77b,#e1cd80,#dbcc85,#d4c889,#cbc48e,#c1be93,#b5b898,#a8b29e,#99aba4,#89a5aa)"></i><i style="background:linear-gradient(90deg,#2a8dc0,#3b8fbe,#4992bb,#5795b9,#6398b6,#6f9cb2,#7ba0af,#87a4ab,#92a8a7,#9eada3,#a9b39e,#b5b898,#c2bf92,#cec58c,#dacc86,#e2ca7e,#e6c176,#e8b96f,#eab56b,#eab36a,#eab46a,#e9b66d,#e8ba70,#e7be73,#e5c277,#e4c67a,#e2ca7e,#e0cf82,#dbcc85,#d4c889,#cbc48e,#c1be93,#b4b899,#a6b19f,#95aaa6)"></i><i style="background:linear-gradient(90deg,#3c8fbd,#4b92bb,#5895b8,#6599b5,#719cb2,#7da0ae,#88a4ab,#93a9a7,#9dada3,#a7b29f,#b2b79a,#bcbc95,#c7c190,#d1c78a,#dbcc85,#e2ca7e,#e5c277,#e7bc72,#e8b96f,#e9b86e,#e8b96f,#e8bb71,#e7be73,#e6c176,#e5c478,#e4c67a,#e3c87c,#e2ca7e,#e1cd80,#ddcd84,#d6c988,#cdc48d,#c1be93,#b2b79a,#a2afa1)"></i><i style="background:linear-gradient(90deg,#4c92bb,#5b96b8,#6899b4,#759db1,#81a2ad,#8ca6a9,#96aaa6,#a0aea2,#a9b29e,#b2b79a,#bbbb96,#c3bf92,#ccc48d,#d5c988,#ddcd84,#e2cb7e,#e4c579,#e6c075,#e7be73,#e7be73,#e6bf74,#e6c276,#e5c478,#e4c57a,#e4c67a,#e4c67a,#e4c67a,#e4c579,#e4c67a,#e3c97d,#e0ce81,#d8cb86,#cdc58d,#bfbd94,#aeb59c)"></i><i style="background:linear-gradient(90deg,#5d96b7,#6b9ab4,#799fb0,#85a3ac,#91a8a8,#9caca3,#a5b19f,#aeb59c,#b6b998,#bebd94,#c5c091,#ccc48d,#d2c78a,#d8cb86,#dece83,#e1cc7f,#e3c87b,#e4c579,#e4c479,#e4c579,#e4c77b,#e3c97c,#e2ca7e,#e2ca7e,#e2c97d,#e3c77b,#e5c478,#e6c176,#e6bf74,#e6c075,#e5c378,#e2cb7e,#d9cb86,#cbc38e,#b9ba97)"></i><i style="background:linear-gradient(90deg,#6d9bb3,#7ca0af,#8aa5aa,#97aaa5,#a3b0a1,#adb49c,#b6b998,#bebd94,#c5c091,#cbc38e,#d0c68b,#d4c989,#d9cb86,#dccd84,#e0cf82,#e1cd80,#e2cb7e,#e2ca7e,#e2cb7f,#e1cd80,#e0cf82,#dfce83,#dece83,#dfce83,#e1cd80,#e3c87c,#e5c377,#e7bd72,#e9b96f,#e9b76d,#e8b96f,#e6c075,#e2cb7e,#d6c988,#c4c091)"></i><i style="background:linear-gradient(90deg,#7ea1ae,#8ea7a9,#9cada3,#aab39e,#b6b898,#c0be93,#c8c28f,#cfc68b,#d5c988,#d9cb86,#dccd84,#dece83,#e0cf82,#e0ce81,#e1ce81,#e1ce81,#e0cf82,#dfce83,#ddcd84,#dacc86,#d8ca87,#d6ca88,#d7ca87,#d9cb86,#dece83,#e2cb7e,#e5c377,#e8ba70,#eab36a,#ebb067,#ebb067,#eab66c,#e6c075,#e0cf82,#cec58c)"></i><i style="background:linear-gradient(90deg,#8fa7a8,#a0aea2,#afb59b,#bdbc95,#c9c38f,#d3c889,#dccd85,#e1cd81,#e3c97d,#e4c77b,#e4c67a,#e4c67a,#e3c87b,#e2ca7d,#e1cc7f,#e0cf82,#ddcd84,#d9cb86,#d5c988,#d1c78a,#cfc58c,#cdc58c,#cec58c,#d2c78a,#d9cb86,#e1ce81,#e5c378,#e9b96f,#ebb067,#edaa62,#eda861,#ecad65,#e9b76d,#e4c77b,#d6c988)"></i><i style="background:linear-gradient(90deg,#a0aea2,#b2b79a,#c3bf92,#d2c78a,#dece83,#e4c77b,#e7bf74,#e8b96f,#e9b66d,#e9b66c,#e9b86e,#e8bb70,#e6bf74,#e4c479,#e2ca7e,#dfce83,#d9cb86,#d3c88a,#cdc58d,#c8c28f,#c5c091,#c4c091,#c6c190,#cbc38e,#d3c889,#ddce84,#e4c57a,#e9b96f,#ecae65,#eea65f,#eea35d,#eea760,#ebb168,#e6c075,#dccd84)"></i><i style="background:linear-gradient(90deg,#b1b69a,#c5c091,#d7ca87,#e3c97c,#e8bb71,#ebb067,#eda861,#eea45d,#eea25c,#eea45e,#eda861,#ebaf66,#e9b76d,#e6bf74,#e3c87c,#dece83,#d5c988,#cdc48d,#c5c091,#bfbd94,#bbbb96,#babb96,#bdbc95,#c3bf92,#ccc48d,#d8cb86,#e3c97d,#e8bb70,#ecae66,#eea55e,#efa15b,#eea35d,#ecad64,#e8bc71,#e0cf82)"></i><i style="background:linear-gradient(90deg,#c2bf92,#d7ca87,#e4c579,#eab36a,#eea45d,#f09854,#f2904e,#f28d4c,#f28e4c,#f2924f,#f09955,#eea35d,#ecae66,#e8ba70,#e4c77b,#dccd84,#d1c78b,#c6c190,#bdbc95,#b6b998,#b2b79a,#b1b69b,#b4b799,#bbbb96,#c5c091,#d3c88a,#e1ce81,#e7be74,#ebb168,#eea65f,#efa15b,#eea35d,#ecac64,#e8bb70,#e0ce81)"></i><i style="background:linear-gradient(90deg,#d1c78a,#e4c77b,#ebb168,#f09d58,#f28c4b,#f48042,#f4783d,#f5763b,#f4793d,#f48042,#f38a4a,#f19854,#eea65f,#e9b66c,#e4c67a,#dbcc85,#cdc48d,#c0be93,#b5b899,#adb49c,#a8b29f,#a7b19f,#aab39e,#b2b79a,#bdbc95,#cbc48e,#dbcc85,#e4c479,#e9b66c,#edab63,#eea55e,#eea65f,#ecae66,#e7bd72,#dfcf82)"></i><i style="background:linear-gradient(90deg,#dfcf82,#e9b66c,#ef9e59,#f38848,#f5753b,#f56732,#f6602d,#f65f2c,#f56430,#f56f36,#f47d40,#f28e4c,#efa05a,#eab36a,#e4c579,#d9cb86,#c8c28f,#babb96,#adb49c,#a4b0a0,#9eada3,#9cada3,#a0aea2,#a8b29e,#b4b899,#c3bf92,#d3c889,#e1cc7f,#e7bd73,#ebb269,#ecac64,#ecad65,#eab46b,#e6c276,#dbcc85)"></i><i style="background:linear-gradient(90deg,#e5c378,#eda760,#f28d4c,#f5743a,#f6602d,#f65024,#f64720,#f64820,#f65125,#f6602d,#f57239,#f38647,#f09b57,#ebb168,#e4c67a,#d6c988,#c4c091,#b3b799,#a5b1a0,#9aaca4,#94a9a6,#92a8a7,#96aaa6,#9faea2,#abb39d,#babb96,#cac38e,#dacc86,#e3c77b,#e7bc71,#e9b66c,#e9b66c,#e7bd72,#e2c97d,#d5c988)"></i><i style="background:linear-gradient(90deg,#e8b96f,#f09c57,#f47f42,#f56530,#f64d22,#f63a1a,#f53016,#f53317,#f6421d,#f65527,#f56b34,#f48244,#f09955,#ebb168,#e3c87b,#d2c78a,#bfbd94,#adb49c,#9dada3,#91a8a7,#8aa5aa,#88a4ab,#8ca6a9,#95a9a6,#a1afa1,#b0b69b,#c0be93,#cfc68b,#ddcd84,#e3c87c,#e5c277,#e5c277,#e3c87c,#dccd84,#ccc48d)"></i><i style="background:linear-gradient(90deg,#eab36a,#f19451,#f5763b,#f65a2a,#f63f1c,#f52813,#f51c10,#f52512,#f63919,#f65024,#f56932,#f48143,#f09b56,#eab36a,#e2cb7f,#cec58c,#b9ba97,#a6b19f,#95aaa6,#88a4ab,#81a2ad,#7ea1ae,#82a2ad,#8aa5aa,#97aaa5,#a5b1a0,#b5b899,#c3bf92,#d0c68b,#dacc86,#dfcf82,#e0cf82,#dacc85,#d0c68b,#c2bf93)"></i><i style="background:linear-gradient(90deg,#ebb067,#f2914f,#f57339,#f65628,#f63b1a,#f52412,#f5190f,#f52512,#f63b1a,#f65326,#f56c34,#f38546,#ef9f59,#e9b86e,#dfce83,#c8c28f,#b2b79a,#9eaea2,#8da6a9,#7fa1ae,#779eb0,#749db1,#779eb0,#80a1ae,#8ca6a9,#9aaca4,#a8b29e,#b6b998,#c3bf92,#ccc48d,#d1c78b,#d1c78b,#ccc48d,#c3bf92,#b5b898)"></i></div><div class="hm" style="left:530.21px;top:258.91px;width:102.18px;height:92.27px"><i style="background:linear-gradient(90deg,#008ac2,#008ac2,#0d8ac2,#208cc1,#298dc0,#2e8dbf,#2f8dbf,#2d8dbf,#278cc0,#1c8bc1,#058ac2,#008ac2,#008ac2,#008ac2,#008ac2,#008ac2,#008ac2,#008ac2,#008ac2,#008ac2,#008ac2,#008ac2,#008ac2,#008ac2,#008ac2,#008ac2,#008ac2,#008ac2,#008ac2,#008ac2,#008ac2,#008ac2,#008ac2,#008ac2,#008ac2)"></i><i style="background:linear-gradient(90deg,#008ac2,#008ac2,#098ac2,#1d8bc1,#278cc0,#2c8dbf,#2d8dbf,#2b8dc0,#258cc0,#198bc1,#018ac2,#008ac2,#008ac2,#008ac2,#008ac2,#008ac2,#008ac2,#008ac2,#008ac2,#008ac2,#008ac2,#008ac2,#008ac2,#008ac2,#008ac2,#008ac2,#008ac2,#008ac2,#008ac2,#008ac2,#008ac2,#008ac2,#008ac2,#008ac2,#008ac2)"></i><i style="background:linear-gradient(90deg,#008ac2,#008ac2,#008ac2,#178bc1,#228cc0,#278cc0,#298dc0,#268cc0,#208cc1,#138bc1,#008ac2,#008ac2,#008ac2,#008ac2,#008ac2,#008ac2,#008ac2,#008ac2,#008ac2,#008ac2,#008ac2,#008ac2,#008ac2,#008ac2,#008ac2,#008ac2,#008ac2,#008ac2,#008ac2,#008ac2,#008ac2,#008ac2,#008ac2,#008ac2,#008ac2)"></i><i style="background:linear-gradient(90deg,#008ac2,#008ac2,#008ac2,#0c8ac2,#1a8bc1,#208cc1,#228cc0,#1f8cc1,#188bc1,#078ac2,#008ac2,#008ac2,#008ac2,#008ac2,#008ac2,#008ac2,#008ac2,#008ac2,#008ac2,#008ac2,#008ac2,#008ac2,#008ac2,#008ac2,#008ac2,#008ac2,#008ac2,#008ac2,#008ac2,#008ac2,#008ac2,#008ac2,#008ac2,#008ac2,#008ac2)"></i><i style="background:linear-gradient(90deg,#008ac2,#008ac2,#008ac2,#008ac2,#0b8ac2,#158bc1,#178bc1,#148bc1,#098ac2,#008ac2,#008ac2,#008ac2,#008ac2,#008ac2,#008ac2,#008ac2,#008ac2,#008ac2,#008ac2,#008ac2,#008ac2,#008ac2,#008ac2,#008ac2,#008ac2,#008ac2,#008ac2,#008ac2,#008ac2,#008ac2,#008ac2,#008ac2,#008ac2,#008ac2,#008ac2)"></i><i style="background:linear-gradient(90deg,#008ac2,#008ac2,#008ac2,#008ac2,#008ac2,#008ac2,#028ac2,#008ac2,#008ac2,#008ac2,#008ac2,#008ac2,#008ac2,#008ac2,#008ac2,#008ac2,#008ac2,#008ac2,#008ac2,#008ac2,#008ac2,#008ac2,#008ac2,#008ac2,#008ac2,#008ac2,#008ac2,#008ac2,#008ac2,#008ac2,#008ac2,#008ac2,#008ac2,#008ac2,#008ac2)"></i><i style="background:linear-gradient(90deg,#008ac2,#008ac2,#008ac2,#008ac2,#008ac2,#008ac2,#008ac2,#008ac2,#008ac2,#008ac2,#008ac2,#008ac2,#008ac2,#008ac2,#008ac2,#008ac2,#008ac2,#008ac2,#008ac2,#008ac2,#008ac2,#008ac2,#008ac2,#008ac2,#008ac2,#008ac2,#008ac2,#008ac2,#008ac2,#008ac2,#008ac2,#008ac2,#008ac2,#008ac2,#008ac2)"></i><i style="background:linear-gradient(90deg,#008ac2,#008ac2,#008ac2,#008ac2,#008ac2,#008ac2,#008ac2,#008ac2,#008ac2,#008ac2,#008ac2,#008ac2,#008ac2,#008ac2,#008ac2,#008ac2,#008ac2,#008ac2,#008ac2,#008ac2,#008ac2,#008ac2,#008ac2,#008ac2,#008ac2,#008ac2,#008ac2,#008ac2,#008ac2,#008ac2,#008ac2,#008ac2,#008ac2,#008ac2,#008ac2)"></i><i style="background:linear-gradient(90deg,#008ac2,#008ac2,#008ac2,#008ac2,#008ac2,#008ac2,#008ac2,#008ac2,#008ac2,#008ac2,#008ac2,#008ac2,#008ac2,#008ac2,#008ac2,#008ac2,#008ac2,#008ac2,#008ac2,#008ac2,#008ac2,#008ac2,#008ac2,#008ac2,#008ac2,#008ac2,#008ac2,#008ac2,#008ac2,#008ac2,#008ac2,#008ac2,#008ac2,#008ac2,#008ac2)"></i><i style="background:linear-gradient(90deg,#008ac2,#008ac2,#008ac2,#008ac2,#008ac2,#008ac2,#008ac2,#008ac2,#008ac2,#008ac2,#008ac2,#008ac2,#008ac2,#008ac2,#008ac2,#008ac2,#008ac2,#008ac2,#008ac2,#008ac2,#008ac2,#008ac2,#008ac2,#008ac2,#008ac2,#008ac2,#008ac2,#008ac2,#008ac2,#008ac2,#008ac2,#008ac2,#008ac2,#008ac2,#008ac2)"></i><i style="background:linear-gradient(90deg,#008ac2,#008ac2,#008ac2,#008ac2,#008ac2,#008ac2,#008ac2,#008ac2,#008ac2,#008ac2,#008ac2,#008ac2,#008ac2,#008ac2,#008ac2,#008ac2,#008ac2,#038ac2,#0b8ac2,#0e8bc2,#0d8ac2,#0a8ac2,#028ac2,#008ac2,#008ac2,#008ac2,#008ac2,#008ac2,#008ac2,#008ac2,#008ac2,#008ac2,#008ac2,#008ac2,#008ac2)"></i><i style="background:linear-gradient(90deg,#008ac2,#008ac2,#008ac2,#008ac2,#008ac2,#008ac2,#008ac2,#008ac2,#008ac2,#008ac2,#008ac2,#008ac2,#008ac2,#008ac2,#008ac2,#0c8ac2,#178bc1,#1d8bc1,#218cc0,#238cc0,#238cc0,#218cc0,#1d8bc1,#178bc1,#0c8ac2,#008ac2,#008ac2,#008ac2,#008ac2,#008ac2,#008ac2,#008ac2,#008ac2,#008ac2,#008ac2)"></i><i style="background:linear-gradient(90deg,#008ac2,#008ac2,#008ac2,#008ac2,#008ac2,#008ac2,#008ac2,#008ac2,#008ac2,#008ac2,#008ac2,#008ac2,#008ac2,#068ac2,#168bc1,#208cc1,#278cc0,#2c8dbf,#2f8dbf,#308dbf,#308dbf,#2f8dbf,#2c8dbf,#278cc0,#208cc0,#168bc1,#028ac2,#008ac2,#008ac2,#008ac2,#008ac2,#008ac2,#008ac2,#008ac2,#008ac2)"></i><i style="background:linear-gradient(90deg,#008ac2,#008ac2,#008ac2,#008ac2,#008ac2,#008ac2,#008ac2,#008ac2,#008ac2,#008ac2,#008ac2,#008ac2,#0d8ac2,#1c8bc1,#258cc0,#2d8dbf,#328ebf,#378ebe,#398fbe,#3b8fbe,#3b8fbe,#398fbe,#378ebe,#338ebf,#2d8dbf,#258cc0,#198bc1,#028ac2,#008ac2,#008ac2,#008ac2,#008ac2,#008ac2,#008ac2,#008ac2)"></i><i style="background:linear-gradient(90deg,#008ac2,#008ac2,#008ac2,#008ac2,#008ac2,#008ac2,#008ac2,#008ac2,#008ac2,#008ac2,#008ac2,#108bc1,#1f8cc1,#298dc0,#308dbf,#378ebe,#3b8fbe,#3f90bd,#4290bd,#4390bc,#4390bc,#4290bd,#3f90bd,#3c8fbd,#368ebe,#2f8dbf,#258cc0,#158bc1,#008ac2,#008ac2,#008ac2,#008ac2,#008ac2,#008ac2,#008ac2)"></i><i style="background:linear-gradient(90deg,#008ac2,#008ac2,#008ac2,#008ac2,#008ac2,#008ac2,#008ac2,#008ac2,#008ac2,#008ac2,#108bc1,#208cc1,#2a8dc0,#328ebf,#398fbe,#3e90bd,#4390bc,#4691bc,#4891bb,#4992bb,#4992bb,#4891bb,#4691bc,#4290bc,#3d8fbd,#368ebe,#2d8dbf,#208cc1,#098ac2,#008ac2,#008ac2,#008ac2,#008ac2,#008ac2,#008ac2)"></i><i style="background:linear-gradient(90deg,#008ac2,#008ac2,#008ac2,#008ac2,#008ac2,#008ac2,#008ac2,#008ac2,#008ac2,#0a8ac2,#1e8cc1,#2a8dc0,#338ebf,#3a8fbe,#4090bd,#4591bc,#4891bb,#4b92bb,#4d92bb,#4e93ba,#4e93ba,#4d92bb,#4b92bb,#4791bc,#4290bc,#3b8fbe,#328ebf,#268cc0,#148bc1,#008ac2,#008ac2,#008ac2,#008ac2,#008ac2,#008ac2)"></i><i style="background:linear-gradient(90deg,#008ac2,#008ac2,#008ac2,#008ac2,#008ac2,#008ac2,#008ac2,#008ac2,#008ac2,#198bc1,#288cc0,#328ebf,#3a8fbe,#4090bd,#4591bc,#4992bb,#4c92bb,#4f93ba,#5093ba,#5193ba,#5193ba,#5093ba,#4e93ba,#4a92bb,#4591bc,#3f90bd,#368ebe,#2a8dc0,#198bc1,#008ac2,#008ac2,#008ac2,#008ac2,#008ac2,#008ac2)"></i><i style="background:linear-gradient(90deg,#008ac2,#008ac2,#008ac2,#008ac2,#008ac2,#008ac2,#008ac2,#008ac2,#0f8bc2,#228cc0,#2f8dbf,#388fbe,#3f90bd,#4591bc,#4992bb,#4c92bb,#4f93ba,#5193ba,#5294ba,#5394b9,#5294ba,#5193ba,#4f93ba,#4c92bb,#4791bc,#4090bd,#378ebe,#2c8dbf,#1c8bc1,#008ac2,#008ac2,#008ac2,#008ac2,#008ac2,#008ac2)"></i><i style="background:linear-gradient(90deg,#008ac2,#008ac2,#008ac2,#008ac2,#008ac2,#008ac2,#008ac2,#008ac2,#198bc1,#288dc0,#348ebf,#3c8fbd,#4390bc,#4891bc,#4c92bb,#4e93ba,#5093ba,#5293ba,#5294ba,#5394b9,#5294ba,#5193ba,#4f93ba,#4b92bb,#4791bc,#4090bd,#378ebe,#2c8dbf,#1b8bc1,#008ac2,#008ac2,#008ac2,#008ac2,#008ac2,#008ac2)"></i><i style="background:linear-gradient(90deg,#008ac2,#008ac2,#008ac2,#008ac2,#008ac2,#008ac2,#008ac2,#068ac2,#1f8cc1,#2d8dbf,#378ebe,#3f90bd,#4591bc,#4a92bb,#4d92bb,#4f93ba,#5093ba,#5193ba,#5293ba,#5193ba,#5193ba,#4f93ba,#4d92bb,#4a92bb,#4591bc,#3e8fbd,#358ebe,#298dc0,#188bc1,#008ac2,#008ac2,#008ac2,#008ac2,#008ac2,#008ac2)"></i><i style="background:linear-gradient(90deg,#008ac2,#008ac2,#008ac2,#008ac2,#008ac2,#008ac2,#008ac2,#0f8bc2,#228cc0,#2f8dbf,#398fbe,#4190bd,#4791bc,#4b92bb,#4d92bb,#4f93ba,#5093ba,#5093ba,#5093ba,#4f93ba,#4e93ba,#4d92bb,#4a92bb,#4791bc,#4190bd,#3b8fbe,#318ebf,#258cc0,#118bc1,#008ac2,#008ac2,#008ac2,#008ac2,#008ac2,#008ac2)"></i><i style="background:linear-gradient(90deg,#008ac2,#008ac2,#008ac2,#008ac2,#008ac2,#008ac2,#008ac2,#148bc1,#258cc0,#318dbf,#3a8fbe,#4190bd,#4791bc,#4a92bb,#4d92bb,#4e93ba,#4e93ba,#4e93ba,#4e93ba,#4d92bb,#4c92bb,#4a92bb,#4791bc,#4390bc,#3d8fbd,#368ebe,#2c8dbf,#1f8cc1,#068ac2,#008ac2,#008ac2,#008ac2,#008ac2,#008ac2,#008ac2)"></i><i style="background:linear-gradient(90deg,#008ac2,#008ac2,#008ac2,#008ac2,#008ac2,#008ac2,#018ac2,#178bc1,#268cc0,#318ebf,#3a8fbe,#4190bd,#4691bc,#4a92bb,#4c92bb,#4d92bb,#4d92bb,#4d92bb,#4c92bb,#4b92bb,#4992bb,#4791bc,#4390bc,#3f90bd,#398fbe,#318dbf,#268cc0,#168bc1,#008ac2,#008ac2,#008ac2,#008ac2,#008ac2,#008ac2,#008ac2)"></i><i style="background:linear-gradient(90deg,#008ac2,#008ac2,#008ac2,#008ac2,#008ac2,#008ac2,#0a8ac2,#1a8bc1,#278cc0,#318ebf,#3a8fbe,#4190bd,#4691bc,#4992bb,#4b92bb,#4c92bb,#4c92bb,#4b92bb,#4a92bb,#4992bb,#4791bc,#4491bc,#4090bd,#3b8fbe,#348ebf,#2b8dc0,#1f8cc1,#098ac2,#008ac2,#008ac2,#008ac2,#008ac2,#008ac2,#008ac2,#008ac2)"></i><i style="background:linear-gradient(90deg,#048ac2,#068ac2,#058ac2,#028ac2,#028ac2,#078ac2,#128bc1,#1d8bc1,#288cc0,#318ebf,#398fbe,#4090bd,#4591bc,#4891bb,#4a92bb,#4b92bb,#4b92bb,#4b92bb,#4a92bb,#4891bb,#4691bc,#4290bc,#3d8fbd,#378ebe,#308dbf,#258cc0,#168bc1,#008ac2,#008ac2,#008ac2,#008ac2,#008ac2,#008ac2,#008ac2,#008ac2)"></i><i style="background:linear-gradient(90deg,#198bc1,#1a8bc1,#188bc1,#158bc1,#138bc1,#148bc1,#188bc1,#208cc1,#298dc0,#318ebf,#398fbe,#3f90bd,#4491bc,#4891bc,#4a92bb,#4b92bb,#4b92bb,#4b92bb,#4a92bb,#4891bc,#4591bc,#4190bd,#3c8fbd,#358ebe,#2c8dbf,#208cc1,#0d8ac2,#008ac2,#008ac2,#008ac2,#008ac2,#008ac2,#008ac2,#008ac2,#008ac2)"></i><i style="background:linear-gradient(90deg,#248cc0,#258cc0,#238cc0,#208cc0,#1d8bc1,#1c8bc1,#1f8cc1,#248cc0,#2b8dc0,#338ebf,#3a8fbe,#4090bd,#4591bc,#4891bb,#4b92bb,#4c92bb,#4c92bb,#4c92bb,#4b92bb,#4992bb,#4691bc,#4190bd,#3b8fbe,#348ebf,#2a8dc0,#1c8bc1,#058ac2,#008ac2,#008ac2,#008ac2,#008ac2,#008ac2,#008ac2,#008ac2,#008ac2)"></i><i style="background:linear-gradient(90deg,#2c8dbf,#2d8dbf,#2b8dc0,#288cc0,#258cc0,#248cc0,#248cc0,#288cc0,#2e8dbf,#358ebe,#3b8fbe,#4190bd,#4691bc,#4992bb,#4c92bb,#4d92bb,#4e93ba,#4d93bb,#4c92bb,#4a92bb,#4791bc,#4290bd,#3b8fbe,#338ebf,#298dc0,#1b8bc1,#018ac2,#008ac2,#008ac2,#008ac2,#008ac2,#008ac2,#008ac2,#008ac2,#008ac2)"></i><i style="background:linear-gradient(90deg,#318ebf,#328ebf,#318ebf,#2f8dbf,#2c8dbf,#2a8dc0,#2a8dc0,#2d8dbf,#328ebf,#388ebe,#3d8fbd,#4390bc,#4791bc,#4b92bb,#4d93ba,#4f93ba,#4f93ba,#4f93ba,#4e93ba,#4b92bb,#4891bc,#4390bc,#3c8fbd,#348ebf,#298dc0,#1b8bc1,#018ac2,#008ac2,#008ac2,#008ac2,#008ac2,#008ac2,#008ac2,#008ac2,#008ac2)"></i><i style="background:linear-gradient(90deg,#358ebe,#368ebe,#358ebe,#338ebf,#318ebf,#2f8dbf,#308dbf,#328ebf,#368ebe,#3b8fbe,#4190bd,#4691bc,#4a92bb,#4d92bb,#4f93ba,#5193ba,#5193ba,#5093ba,#4f93ba,#4c92bb,#4992bb,#4491bc,#3d8fbd,#358ebe,#2b8dc0,#1e8bc1,#078ac2,#008ac2,#008ac2,#008ac2,#008ac2,#008ac2,#008ac2,#008ac2,#008ac2)"></i><i style="background:linear-gradient(90deg,#378ebe,#388fbe,#388fbe,#378ebe,#358ebe,#348ebe,#358ebe,#378ebe,#3b8fbe,#3f90bd,#4491bc,#4891bb,#4c92bb,#4f93ba,#5193ba,#5293ba,#5294ba,#5193ba,#5093ba,#4d92bb,#4992bb,#4491bc,#3e90bd,#368ebe,#2d8dbf,#218cc0,#0f8bc2,#008ac2,#008ac2,#008ac2,#008ac2,#008ac2,#008ac2,#008ac2,#008ac2)"></i><i style="background:linear-gradient(90deg,#368ebe,#398fbe,#398fbe,#398fbe,#388fbe,#388fbe,#398fbe,#3c8fbd,#3f90bd,#4390bc,#4791bc,#4b92bb,#4e93ba,#5193ba,#5294ba,#5294ba,#5294ba,#5193ba,#4f93ba,#4d92bb,#4992bb,#4491bc,#3f90bd,#388fbe,#2f8dbf,#258cc0,#178bc1,#008ac2,#008ac2,#008ac2,#008ac2,#008ac2,#008ac2,#008ac2,#008ac2)"></i><i style="background:linear-gradient(90deg,#358ebe,#388ebe,#398fbe,#3a8fbe,#3a8fbe,#3b8fbe,#3d8fbd,#4090bd,#4390bc,#4791bc,#4a92bb,#4d92bb,#5093ba,#5193ba,#5294ba,#5294ba,#5193ba,#5093ba,#4e93ba,#4b92bb,#4891bc,#4491bc,#3f90bd,#398fbe,#328ebf,#298dc0,#1f8cc1,#0e8ac2,#008ac2,#008ac2,#008ac2,#008ac2,#008ac2,#008ac2,#008ac2)"></i><i style="background:linear-gradient(90deg,#318ebf,#358ebe,#388fbe,#3a8fbe,#3c8fbd,#3e8fbd,#4090bd,#4390bc,#4791bc,#4a92bb,#4c92bb,#4f93ba,#5093ba,#5193ba,#5193ba,#5093ba,#4f93ba,#4d92bb,#4b92bb,#4891bb,#4691bc,#4290bc,#3e90bd,#3a8fbe,#348ebe,#2e8dbf,#258cc0,#198bc1,#038ac2,#008ac2,#008ac2,#008ac2,#008ac2,#008ac2,#008ac2)"></i><i style="background:linear-gradient(90deg,#2d8dbf,#328ebf,#368ebe,#398fbe,#3c8fbd,#3f90bd,#4290bc,#4691bc,#4992bb,#4b92bb,#4e93ba,#4f93ba,#5093ba,#5093ba,#4f93ba,#4d92bb,#4b92bb,#4992bb,#4791bc,#4591bc,#4290bc,#4090bd,#3d8fbd,#3a8fbe,#368ebe,#318ebf,#2b8dc0,#228cc0,#138bc1,#008ac2,#008ac2,#008ac2,#008ac2,#008ac2,#008ac2)"></i><i style="background:linear-gradient(90deg,#268cc0,#2d8dbf,#328ebf,#378ebe,#3c8fbd,#4090bd,#4491bc,#4791bc,#4a92bb,#4c92bb,#4e93ba,#4e93ba,#4e93ba,#4d92bb,#4b92bb,#4992bb,#4791bc,#4491bc,#4290bd,#4090bd,#3e90bd,#3d8fbd,#3b8fbe,#3a8fbe,#388ebe,#348ebe,#2f8dbf,#288cc0,#1d8bc1,#088ac2,#008ac2,#008ac2,#008ac2,#008ac2,#008ac2)"></i><i style="background:linear-gradient(90deg,#1f8cc1,#288cc0,#2f8dbf,#358ebe,#3a8fbe,#3f90bd,#4491bc,#4791bc,#4a92bb,#4c92bb,#4c92bb,#4c92bb,#4b92bb,#4992bb,#4691bc,#4390bc,#4090bd,#3d8fbd,#3b8fbe,#3a8fbe,#398fbe,#398fbe,#398fbe,#398fbe,#398fbe,#378ebe,#338ebf,#2d8dbf,#238cc0,#148bc1,#008ac2,#008ac2,#008ac2,#008ac2,#008ac2)"></i><i style="background:linear-gradient(90deg,#168bc1,#228cc0,#2a8dc0,#328ebf,#388fbe,#3e8fbd,#4390bc,#4691bc,#4891bb,#4a92bb,#4992bb,#4891bb,#4691bc,#4390bc,#4090bd,#3c8fbd,#388fbe,#358ebe,#338ebf,#328ebf,#338ebf,#348ebe,#368ebe,#388fbe,#398fbe,#388fbe,#358ebe,#308dbf,#278cc0,#1a8bc1,#008ac2,#008ac2,#008ac2,#008ac2,#008ac2)"></i><i style="background:linear-gradient(90deg,#0a8ac2,#1b8bc1,#268cc0,#2f8dbf,#368ebe,#3c8fbd,#4090bd,#4491bc,#4691bc,#4691bc,#4591bc,#4390bc,#4090bd,#3c8fbd,#388fbe,#338ebf,#2f8dbf,#2c8dbf,#2a8dc0,#2a8dc0,#2b8dbf,#2f8dbf,#328ebf,#368ebe,#388ebe,#388fbe,#368ebe,#318ebf,#2a8dc0,#1d8bc1,#058ac2,#008ac2,#008ac2,#008ac2,#008ac2)"></i><i style="background:linear-gradient(90deg,#008ac2,#158bc1,#228cc0,#2b8dc0,#338ebf,#398fbe,#3d8fbd,#4090bd,#4290bd,#4290bd,#4090bd,#3d8fbd,#398fbe,#348ebf,#2e8dbf,#298dc0,#238cc0,#1f8cc1,#1e8bc1,#1f8cc1,#238cc0,#288cc0,#2e8dbf,#328ebf,#368ebe,#378ebe,#358ebe,#318ebf,#2a8dc0,#1e8bc1,#068ac2,#008ac2,#008ac2,#008ac2,#008ac2)"></i><i style="background:linear-gradient(90deg,#008ac2,#118bc1,#1f8cc1,#288cc0,#308dbf,#368ebe,#3a8fbe,#3c8fbd,#3d8fbd,#3c8fbd,#398fbe,#358ebe,#308dbf,#2a8dc0,#238cc0,#1b8bc1,#138bc1,#0d8ac2,#0b8ac2,#108bc1,#188bc1,#208cc1,#288cc0,#2e8dbf,#328ebf,#348ebf,#338ebf,#2f8dbf,#288cc0,#1c8bc1,#038ac2,#008ac2,#008ac2,#008ac2,#008ac2)"></i><i style="background:linear-gradient(90deg,#008ac2,#0f8bc1,#1d8bc1,#268cc0,#2d8dbf,#328ebf,#368ebe,#378ebe,#378ebe,#358ebe,#328ebf,#2c8dbf,#268cc0,#1d8bc1,#128bc1,#048ac2,#008ac2,#008ac2,#008ac2,#008ac2,#068ac2,#168bc1,#208cc1,#288cc0,#2d8dbf,#308dbf,#2f8dbf,#2b8dc0,#248cc0,#178bc1,#008ac2,#008ac2,#008ac2,#008ac2,#008ac2)"></i><i style="background:linear-gradient(90deg,#008ac2,#128bc1,#1e8cc1,#268cc0,#2b8dbf,#2f8dbf,#318ebf,#328ebf,#318dbf,#2e8dbf,#298dc0,#228cc0,#198bc1,#0a8ac2,#008ac2,#008ac2,#008ac2,#008ac2,#008ac2,#008ac2,#008ac2,#058ac2,#168bc1,#208cc1,#268cc0,#298dc0,#298dc0,#258cc0,#1d8bc1,#0e8bc2,#008ac2,#008ac2,#008ac2,#008ac2,#008ac2)"></i><i style="background:linear-gradient(90deg,#068ac2,#188bc1,#218cc0,#278cc0,#2b8dc0,#2d8dbf,#2e8dbf,#2d8dbf,#2a8dc0,#268cc0,#1f8cc1,#158bc1,#058ac2,#008ac2,#008ac2,#008ac2,#008ac2,#008ac2,#008ac2,#008ac2,#008ac2,#008ac2,#078ac2,#168bc1,#1d8bc1,#218cc0,#208cc0,#1c8bc1,#138bc1,#008ac2,#008ac2,#008ac2,#008ac2,#008ac2,#008ac2)"></i><i style="background:linear-gradient(90deg,#138bc1,#1e8cc1,#258cc0,#2a8dc0,#2c8dbf,#2d8dbf,#2c8dbf,#298dc0,#258cc0,#1e8cc1,#158bc1,#058ac2,#008ac2,#008ac2,#008ac2,#008ac2,#008ac2,#008ac2,#008ac2,#008ac2,#008ac2,#008ac2,#008ac2,#058ac2,#108bc1,#148bc1,#148bc1,#0e8ac2,#008ac2,#008ac2,#008ac2,#008ac2,#008ac2,#008ac2,#008ac2)"></i><i style="background:linear-gradient(90deg,#1c8bc1,#258cc0,#2b8dc0,#2e8dbf,#2e8dbf,#2e8dbf,#2b8dc0,#278cc0,#218cc0,#198bc1,#0c8ac2,#008ac2,#008ac2,#008ac2,#008ac2,#008ac2,#008ac2,#008ac2,#008ac2,#008ac2,#008ac2,#008ac2,#008ac2,#008ac2,#008ac2,#008ac2,#008ac2,#008ac2,#008ac2,#008ac2,#008ac2,#008ac2,#008ac2,#008ac2,#008ac2)"></i><i style="background:linear-gradient(90deg,#248cc0,#2c8dbf,#308dbf,#328ebf,#328ebf,#308dbf,#2d8dbf,#288cc0,#218cc0,#188bc1,#098ac2,#008ac2,#008ac2,#008ac2,#008ac2,#008ac2,#008ac2,#008ac2,#008ac2,#008ac2,#008ac2,#008ac2,#008ac2,#008ac2,#008ac2,#008ac2,#008ac2,#008ac2,#008ac2,#008ac2,#008ac2,#008ac2,#008ac2,#008ac2,#008ac2)"></i><i style="background:linear-gradient(90deg,#2a8dc0,#318ebf,#358ebe,#378ebe,#368ebe,#348ebf,#308dbf,#2a8dc0,#248cc0,#1b8bc1,#0f8bc2,#008ac2,#008ac2,#008ac2,#008ac2,#008ac2,#008ac2,#008ac2,#008ac2,#008ac2,#008ac2,#008ac2,#008ac2,#008ac2,#008ac2,#008ac2,#008ac2,#008ac2,#008ac2,#008ac2,#008ac2,#008ac2,#008ac2,#008ac2,#008ac2)"></i><i style="background:linear-gradient(90deg,#2f8dbf,#368ebe,#398fbe,#3b8fbe,#3a8fbe,#388fbe,#348ebf,#2f8dbf,#298dc0,#228cc0,#198bc1,#0f8bc2,#028ac2,#008ac2,#008ac2,#008ac2,#008ac2,#008ac2,#008ac2,#008ac2,#008ac2,#008ac2,#008ac2,#008ac2,#008ac2,#008ac2,#008ac2,#008ac2,#008ac2,#008ac2,#008ac2,#008ac2,#008ac2,#008ac2,#008ac2)"></i><i style="background:linear-gradient(90deg,#328ebf,#398fbe,#3d8fbd,#3e90bd,#3e90bd,#3c8fbd,#398fbe,#358ebe,#308dbf,#2a8dc0,#248cc0,#1e8cc1,#198bc1,#158bc1,#128bc1,#118bc1,#128bc1,#128bc1,#128bc1,#108bc1,#0b8ac2,#038ac2,#008ac2,#008ac2,#008ac2,#008ac2,#008ac2,#008ac2,#008ac2,#008ac2,#008ac2,#008ac2,#008ac2,#008ac2,#008ac2)"></i><i style="background:linear-gradient(90deg,#348ebf,#3b8fbe,#3f90bd,#4190bd,#4190bd,#4090bd,#3e8fbd,#3b8fbe,#378ebe,#338ebf,#2f8dbf,#2c8dbf,#298dc0,#288cc0,#278cc0,#288cc0,#298dc0,#298dc0,#298dc0,#278cc0,#238cc0,#1d8bc1,#148bc1,#038ac2,#008ac2,#008ac2,#008ac2,#008ac2,#008ac2,#008ac2,#008ac2,#008ac2,#008ac2,#008ac2,#008ac2)"></i><i style="background:linear-gradient(90deg,#348ebf,#3b8fbe,#4090bd,#4390bc,#4491bc,#4491bc,#4290bc,#4190bd,#3e90bd,#3c8fbd,#3a8fbe,#388fbe,#378ebe,#378ebe,#388ebe,#398fbe,#3a8fbe,#3a8fbe,#3a8fbe,#388fbe,#348ebe,#2f8dbf,#278cc0,#1b8bc1,#068ac2,#008ac2,#008ac2,#008ac2,#008ac2,#008ac2,#008ac2,#008ac2,#008ac2,#008ac2,#008ac2)"></i><i style="background:linear-gradient(90deg,#328ebf,#3a8fbe,#3f90bd,#4390bc,#4591bc,#4691bc,#4791bc,#4691bc,#4691bc,#4591bc,#4491bc,#4491bc,#4491bc,#4591bc,#4691bc,#4891bc,#4992bb,#4a92bb,#4992bb,#4791bc,#4491bc,#3e8fbd,#368ebe,#2b8dbf,#1d8bc1,#058ac2,#008ac2,#008ac2,#008ac2,#008ac2,#008ac2,#008ac2,#008ac2,#008ac2,#008ac2)"></i><i style="background:linear-gradient(90deg,#2f8dbf,#388ebe,#3e8fbd,#4390bc,#4691bc,#4891bb,#4a92bb,#4b92bb,#4c92bb,#4d92bb,#4e93ba,#4f93ba,#5093ba,#5293ba,#5494b9,#5694b9,#5795b8,#5895b8,#5895b8,#5694b9,#5293ba,#4c92bb,#4491bc,#3a8fbe,#2d8dbf,#1d8bc1,#028ac2,#008ac2,#008ac2,#008ac2,#008ac2,#008ac2,#008ac2,#008ac2,#008ac2)"></i><i style="background:linear-gradient(90deg,#2a8dc0,#348ebf,#3b8fbe,#4190bd,#4691bc,#4a92bb,#4d92bb,#5093ba,#5294ba,#5594b9,#5795b9,#5995b8,#5b96b8,#5e96b7,#6097b6,#6398b6,#6598b5,#6699b5,#6599b5,#6398b6,#5f97b7,#5995b8,#5193ba,#4791bc,#3b8fbe,#2d8dbf,#1c8bc1,#008ac2,#008ac2,#008ac2,#008ac2,#008ac2,#008ac2,#008ac2,#008ac2)"></i><i style="background:linear-gradient(90deg,#238cc0,#2e8dbf,#378ebe,#3f90bd,#4591bc,#4b92bb,#5093ba,#5494b9,#5895b8,#5c96b8,#5f97b7,#6298b6,#6699b5,#699ab4,#6c9bb3,#6f9cb3,#729cb2,#739db2,#729db2,#709cb2,#6c9bb3,#6699b5,#5e96b7,#5394b9,#4891bc,#3b8fbe,#2c8dbf,#1c8bc1,#028ac2,#008ac2,#008ac2,#008ac2,#008ac2,#008ac2,#008ac2)"></i><i style="background:linear-gradient(90deg,#1a8bc1,#288cc0,#338ebf,#3c8fbd,#4491bc,#4b92bb,#5193ba,#5795b8,#5d96b7,#6298b6,#6799b5,#6b9ab4,#709cb2,#749db1,#789eb0,#7b9faf,#7ea0ae,#7fa1ae,#7fa1ae,#7da0af,#789fb0,#729cb2,#699ab4,#5f97b7,#5494b9,#4791bc,#3a8fbe,#2c8dbf,#1e8bc1,#0b8ac2,#008ac2,#008ac2,#008ac2,#008ac2,#008ac2)"></i><i style="background:linear-gradient(90deg,#0c8ac2,#208cc0,#2e8dbf,#388fbe,#4290bd,#4b92bb,#5394b9,#5a96b8,#6197b6,#6899b5,#6e9bb3,#749db1,#799fb0,#7ea0ae,#82a2ad,#86a4ab,#89a5aa,#8aa5aa,#8aa5aa,#88a4ab,#84a3ac,#7da0ae,#759db1,#6a9ab4,#5f97b7,#5394b9,#4691bc,#3a8fbe,#2e8dbf,#228cc0,#148bc1,#008ac2,#008ac2,#008ac2,#008ac2)"></i><i style="background:linear-gradient(90deg,#008ac2,#178bc1,#288cc0,#358ebe,#4090bd,#4b92bb,#5494b9,#5d96b7,#6699b5,#6d9bb3,#759db1,#7ba0af,#81a2ad,#87a4ab,#8ca6a9,#90a8a8,#93a9a7,#95aaa6,#95aaa6,#93a9a7,#8fa7a8,#88a4ab,#80a1ae,#759eb1,#6a9ab4,#5e96b7,#5293ba,#4691bc,#3b8fbe,#318ebf,#278cc0,#1a8bc1,#068ac2,#008ac2,#008ac2)"></i><i style="background:linear-gradient(90deg,#008ac2,#0d8ac2,#238cc0,#338ebf,#3f90bd,#4b92bb,#5694b9,#6097b6,#6a9ab4,#739db2,#7b9faf,#82a2ad,#89a5aa,#90a7a8,#95aaa6,#9aaba4,#9dada3,#9faea2,#9faea2,#9dada3,#99aba5,#92a8a7,#8aa5aa,#7fa1ae,#749db1,#6899b4,#5d96b7,#5293ba,#4791bc,#3e8fbd,#348ebe,#2a8dc0,#1d8bc1,#078ac2,#008ac2)"></i><i style="background:linear-gradient(90deg,#008ac2,#038ac2,#208cc1,#318ebf,#3f90bd,#4c92bb,#5895b8,#6398b6,#6e9bb3,#789eb0,#81a2ad,#89a5aa,#91a8a8,#98aba5,#9dada3,#a2afa1,#a6b19f,#a8b29f,#a8b29e,#a6b19f,#a2afa1,#9caca3,#93a9a7,#89a5aa,#7ea1ae,#739db2,#6799b5,#5d96b7,#5394b9,#4992bb,#4090bd,#368ebe,#2b8dc0,#1c8bc1,#008ac2)"></i><i style="background:linear-gradient(90deg,#008ac2,#008ac2,#208cc1,#328ebf,#4190bd,#4f93ba,#5b96b8,#6799b5,#729db2,#7da0ae,#87a4ab,#90a7a8,#98aba5,#9faea2,#a5b1a0,#aab39d,#aeb59c,#b0b69b,#b0b69b,#aeb59c,#aab39d,#a4b0a0,#9cada3,#93a9a7,#88a4ab,#7da0af,#729cb2,#6799b5,#5d96b7,#5494b9,#4a92bb,#4190bd,#358ebe,#278cc0,#138bc1)"></i><i style="background:linear-gradient(90deg,#008ac2,#028ac2,#228cc0,#358ebe,#4491bc,#5294ba,#5f97b7,#6c9ab4,#779eb0,#82a2ad,#8da6a9,#96aaa6,#9faea2,#a6b19f,#acb49c,#b1b69a,#b5b899,#b7b998,#b7b998,#b6b998,#b2b79a,#acb49d,#a5b0a0,#9baca4,#91a8a8,#86a4ab,#7ba0af,#719cb2,#6799b5,#5e96b7,#5494b9,#4a92bb,#3e90bd,#308dbf,#1f8cc1)"></i><i style="background:linear-gradient(90deg,#008ac2,#0d8ac2,#288cc0,#398fbe,#4992bb,#5795b9,#6498b5,#719cb2,#7da0ae,#88a4ab,#93a9a7,#9dada3,#a5b1a0,#adb49c,#b3b79a,#b8ba97,#bbbb96,#bdbc95,#bebd94,#bcbc95,#b9ba97,#b4b899,#acb49c,#a4b0a0,#9aaca4,#90a7a8,#85a3ac,#7b9faf,#719cb2,#6799b5,#5d96b7,#5293ba,#4691bc,#388fbe,#278cc0)"></i><i style="background:linear-gradient(90deg,#008ac2,#198bc1,#2f8dbf,#4090bd,#4f93ba,#5d96b7,#6a9ab4,#779eb0,#83a2ac,#8ea7a8,#99aba4,#a3b0a1,#abb49d,#b3b79a,#b9ba97,#bebc95,#c1be93,#c3bf92,#c3bf92,#c2bf92,#bfbd94,#babb96,#b4b899,#acb49d,#a3afa1,#99aba5,#8fa7a8,#84a3ac,#7a9faf,#709cb2,#6598b5,#5995b8,#4c92bb,#3e8fbd,#2d8dbf)"></i><i style="background:linear-gradient(90deg,#078ac2,#258cc0,#388fbe,#4891bc,#5695b9,#6498b5,#719cb2,#7ea1ae,#8aa5aa,#95aaa6,#9faea2,#a9b29e,#b1b69a,#b8ba97,#bebd94,#c2bf92,#c6c191,#c7c290,#c8c28f,#c7c190,#c4c091,#c0be93,#babb96,#b3b799,#abb39d,#a2afa1,#98aba5,#8ea7a9,#83a2ac,#789eb0,#6c9bb3,#6097b7,#5294ba,#4390bc,#328ebf)"></i><i style="background:linear-gradient(90deg,#1c8bc1,#318dbf,#4190bd,#5093ba,#5f97b7,#6c9bb3,#799fb0,#85a3ac,#91a8a8,#9baca4,#a5b1a0,#aeb59c,#b6b998,#bdbc95,#c2bf92,#c6c190,#c9c38f,#cbc38e,#cbc48e,#cbc38e,#c9c28f,#c5c091,#c0be93,#babb96,#b3b79a,#aab39d,#a1afa1,#97aaa5,#8ca6a9,#80a1ad,#739db1,#6699b5,#5795b8,#4891bc,#368ebe)"></i><i style="background:linear-gradient(90deg,#2a8dc0,#3c8fbd,#4b92bb,#5a95b8,#6899b5,#759db1,#81a2ad,#8da6a9,#98aba5,#a2afa1,#abb49d,#b4b899,#bbbb96,#c1be93,#c6c190,#c9c38f,#ccc48d,#cec58c,#cec58c,#cec58c,#ccc48d,#cac38e,#c6c190,#c1be93,#babb96,#b3b79a,#aab39e,#9faea2,#94a9a6,#88a4ab,#7a9faf,#6c9bb3,#5c96b7,#4c92bb,#398fbe)"></i><i style="background:linear-gradient(90deg,#378ebe,#4791bc,#5594b9,#6398b6,#719cb2,#7ea0ae,#8aa5aa,#95aaa6,#9faea2,#a9b29e,#b1b69a,#b9ba97,#bfbd94,#c4c091,#c9c28f,#ccc48d,#cec58c,#cfc68b,#d0c68b,#d0c68b,#cfc68b,#cec58c,#cbc48e,#c7c190,#c2bf93,#bbbb96,#b2b79a,#a8b29e,#9dada3,#90a7a8,#81a2ad,#729cb2,#6197b6,#5093ba,#3c8fbd)"></i><i style="background:linear-gradient(90deg,#4491bc,#5294ba,#6097b6,#6d9bb3,#7a9faf,#87a4ab,#92a8a7,#9dada3,#a7b19f,#afb59b,#b7b998,#bdbc95,#c3bf92,#c7c190,#cbc38e,#cdc58d,#cfc68c,#d1c68b,#d1c78a,#d2c78a,#d2c78a,#d1c78a,#d0c68b,#cdc58d,#c9c28f,#c3bf92,#bbbb96,#b1b69b,#a5b0a0,#97aaa5,#88a4ab,#789eb0,#6699b5,#5494b9,#4090bd)"></i><i style="background:linear-gradient(90deg,#5093ba,#5e96b7,#6b9ab4,#789eb0,#84a3ac,#90a8a8,#9baca4,#a5b1a0,#aeb59c,#b6b998,#bcbc95,#c2bf92,#c6c190,#cac38e,#ccc48d,#cec58c,#d0c68b,#d1c78a,#d2c78a,#d3c889,#d4c989,#d5c988,#d5c989,#d3c889,#d0c68b,#cac38e,#c3bf92,#b9ba97,#adb49c,#9eaea2,#8fa7a8,#7da0ae,#6b9ab4,#5895b8,#4390bc)"></i><i style="background:linear-gradient(90deg,#5c96b7,#699ab4,#769eb0,#83a2ad,#8fa7a8,#9aaca4,#a4b0a0,#aeb59c,#b6b998,#bcbc95,#c2bf92,#c6c190,#c9c38f,#ccc48d,#cec58c,#cfc68b,#d1c68b,#d2c78a,#d3c889,#d5c988,#d7ca87,#d9cb86,#d9cb86,#d9cb86,#d7ca87,#d2c78a,#cbc48e,#c1be93,#b5b899,#a6b19f,#95aaa6,#83a3ac,#709cb2,#5c96b7,#4891bc)"></i><i style="background:linear-gradient(90deg,#6899b4,#759eb1,#82a2ad,#8ea7a9,#9aaca4,#a4b0a0,#aeb59c,#b7b998,#bebd94,#c3bf92,#c8c28f,#cbc38e,#cdc58d,#cfc58c,#d0c68b,#d1c68b,#d2c78a,#d3c889,#d5c988,#d7ca87,#dacc85,#ddcd84,#dfce83,#dfcf82,#dece83,#dacc85,#d3c889,#cac38f,#bdbc95,#aeb59c,#9cada3,#8aa5aa,#769eb1,#6298b6,#4d92bb)"></i><i style="background:linear-gradient(90deg,#759db1,#82a2ad,#8ea7a9,#9aaca4,#a5b1a0,#afb59b,#b8ba97,#c0be93,#c6c190,#cbc38e,#cec58c,#d0c68b,#d1c78a,#d2c78a,#d2c78a,#d3c88a,#d4c889,#d5c988,#d7ca87,#dbcc85,#dece83,#e1cd80,#e2ca7e,#e3c87c,#e3c97d,#e1cc80,#dccd84,#d2c78a,#c5c091,#b5b898,#a4b0a0,#91a8a8,#7da0af,#6899b4,#5394b9)"></i><i style="background:linear-gradient(90deg,#81a2ad,#8fa7a8,#9baca4,#a7b19f,#b1b69a,#bbbb96,#c3bf92,#cac38e,#cfc68c,#d3c88a,#d5c988,#d6ca88,#d7ca87,#d7ca87,#d6ca88,#d6ca88,#d7ca87,#d9cb86,#dccd85,#dfcf82,#e2cb7f,#e4c77b,#e5c377,#e6c075,#e6c075,#e5c378,#e2ca7e,#dbcc85,#cec58c,#bebd94,#acb49d,#98aba5,#84a3ac,#709cb2,#5b96b8)"></i><i style="background:linear-gradient(90deg,#8ea7a9,#9caca3,#a8b29e,#b4b799,#bebd94,#c7c190,#cec58c,#d4c889,#d9cb86,#dccd84,#ddce84,#dece83,#ddce84,#ddcd84,#dccd84,#dccd84,#ddcd84,#dfce83,#e1cd81,#e3c97d,#e5c478,#e7bf74,#e8ba70,#e9b76d,#e9b76d,#e8ba70,#e6c175,#e2cb7e,#d7ca87,#c7c190,#b5b899,#a1afa1,#8da6a9,#799fb0,#6498b6)"></i><i style="background:linear-gradient(90deg,#9aaca4,#a9b29e,#b6b898,#c1be93,#cbc38e,#d3c889,#dacc86,#dfcf82,#e1cc7f,#e2c97d,#e3c87c,#e3c87c,#e2c97d,#e2ca7e,#e2cb7f,#e2cb7f,#e2cb7e,#e3c87c,#e4c579,#e6c075,#e8bb70,#eab56b,#ebb067,#ecad64,#ecac64,#ebaf67,#e9b66c,#e6c176,#e0ce82,#d1c78b,#bfbd94,#acb49d,#97aba5,#83a2ac,#6e9bb3)"></i><i style="background:linear-gradient(90deg,#a6b19f,#b6b998,#c3bf92,#cec58c,#d8cb87,#e0cf82,#e3c87c,#e5c378,#e6c075,#e7be73,#e7be73,#e7be73,#e6bf74,#e6c075,#e6c176,#e6c176,#e6c075,#e7be73,#e8ba70,#eab56c,#ebaf67,#eda962,#eea45e,#efa15b,#efa05b,#eea45d,#edab63,#eab56c,#e5c378,#dccd84,#cac38e,#b7b998,#a4b0a0,#8fa7a8,#7b9faf)"></i><i style="background:linear-gradient(90deg,#b2b79a,#c2bf92,#d0c68b,#dccd84,#e2c97d,#e6c176,#e8bb71,#e9b66d,#eab36a,#ebb269,#ebb269,#ebb269,#eab36a,#eab46b,#eab56c,#eab56b,#eab46a,#ebb168,#ecad65,#eda861,#efa25c,#f09c57,#f19754,#f19451,#f19451,#f19753,#ef9e59,#eda961,#e9b66d,#e4c67a,#d7ca87,#c5c091,#b1b69a,#9dada3,#89a5ab)"></i><i style="background:linear-gradient(90deg,#bdbc95,#cec58c,#ddcd84,#e4c57a,#e8bb71,#eab36a,#ecad65,#eda961,#eea65f,#eea55e,#eea55e,#eea55e,#eea65f,#eea760,#eda760,#eea760,#eea55e,#eea25c,#ef9f59,#f09a55,#f19451,#f28e4d,#f38a49,#f38747,#f38747,#f38a49,#f2914e,#f09b56,#eda861,#e9b86e,#e3c97d,#d4c889,#c1be93,#adb49c,#98aba5)"></i><i style="background:linear-gradient(90deg,#c7c290,#dacb86,#e4c67a,#e9b86e,#ecad65,#eea55e,#ef9f59,#f09b56,#f09854,#f19753,#f19753,#f19753,#f19854,#f19854,#f19854,#f19753,#f19552,#f19350,#f28f4d,#f38a4a,#f38546,#f48042,#f47c3f,#f4793e,#f4793d,#f47c40,#f38344,#f28c4b,#f09854,#eda760,#e9b86e,#e2ca7e,#d2c78a,#bebd94,#a9b29e)"></i><i style="background:linear-gradient(90deg,#d0c68b,#e2cb7f,#e8ba6f,#edab63,#ef9f5a,#f19653,#f2904e,#f28c4b,#f38a4a,#f38949,#f38948,#f38948,#f38949,#f38948,#f38848,#f38747,#f38546,#f38344,#f48042,#f47c3f,#f4773c,#f57339,#f56f37,#f56d35,#f56c35,#f56f36,#f5743a,#f47c3f,#f38747,#f19552,#eea55e,#e9b76d,#e2cb7e,#d0c68b,#babb96)"></i><i style="background:linear-gradient(90deg,#d8cb87,#e5c277,#ebaf66,#ef9f59,#f1924f,#f38948,#f38344,#f47f41,#f47d40,#f47c3f,#f47b3f,#f47b3f,#f47b3e,#f47a3e,#f4793e,#f4783d,#f4773c,#f5743a,#f57238,#f56f36,#f56b34,#f56832,#f56430,#f5622e,#f5612e,#f5622e,#f56530,#f56b34,#f5753a,#f48143,#f2904e,#efa25c,#e9b66d,#e1cc80,#ccc48d)"></i><i style="background:linear-gradient(90deg,#dece83,#e8ba70,#eea65f,#f19451,#f38647,#f47c40,#f5763b,#f57238,#f57037,#f56f37,#f56f36,#f56f36,#f56e36,#f56e36,#f56d35,#f56c34,#f56a34,#f56933,#f56732,#f56530,#f5632f,#f6602d,#f65d2c,#f65a2a,#f65829,#f65728,#f65728,#f65b2a,#f5612e,#f56b34,#f47a3e,#f28c4b,#efa15b,#e9b86e,#dece83)"></i><i style="background:linear-gradient(90deg,#e1cd80,#eab56b,#ef9e59,#f28b4a,#f47c40,#f57238,#f56b34,#f56731,#f56631,#f56530,#f56530,#f56530,#f56530,#f56530,#f56430,#f5632f,#f5632f,#f5632f,#f5622e,#f5622e,#f6602d,#f65e2c,#f65c2b,#f65829,#f65426,#f64f24,#f64c22,#f64a21,#f64d23,#f65527,#f5622f,#f5753a,#f28b4a,#eea45e,#e6bf74)"></i><i style="background:linear-gradient(90deg,#e2cb7f,#ebb269,#f09a56,#f38646,#f5763b,#f56a33,#f5632f,#f65f2d,#f65f2c,#f65f2d,#f6602d,#f5612e,#f5612e,#f5612e,#f5612e,#f5622e,#f5632f,#f5632f,#f56430,#f56530,#f56530,#f5632f,#f5612d,#f65c2b,#f65527,#f64d23,#f6451f,#f63e1b,#f63a1a,#f63e1c,#f64b21,#f65e2c,#f5763b,#f2914f,#ecaf66)"></i><i style="background:linear-gradient(90deg,#e2cb7f,#ebb168,#f09954,#f38344,#f57239,#f56631,#f65f2d,#f65c2b,#f65c2b,#f65e2c,#f6602d,#f5622e,#f5632f,#f56530,#f56631,#f56832,#f56933,#f56c34,#f56e36,#f56f37,#f57037,#f56f36,#f56b34,#f56631,#f65d2b,#f65225,#f6451f,#f63718,#f52b14,#f52813,#f53417,#f64921,#f5632f,#f48143,#efa05b)"></i><i style="background:linear-gradient(90deg,#e1ce81,#eab36a,#f09a56,#f38545,#f57339,#f56732,#f5612d,#f65e2c,#f6602d,#f5622f,#f56631,#f56933,#f56c35,#f56f36,#f57138,#f5743a,#f4773c,#f47a3e,#f47d40,#f47f41,#f48042,#f47e41,#f47b3e,#f5743a,#f56a33,#f65d2b,#f64d22,#f63a1a,#f52613,#f5190f,#f52111,#f63919,#f65627,#f5753a,#f19652)"></i><i style="background:linear-gradient(90deg,#dccd84,#e9b86e,#efa05a,#f38a49,#f4793d,#f56d36,#f56732,#f56631,#f56832,#f56c35,#f57138,#f5763b,#f47a3e,#f47e40,#f48143,#f38546,#f38949,#f28d4b,#f2904e,#f19250,#f19350,#f2924f,#f28d4c,#f38646,#f47b3e,#f56c35,#f65a2a,#f6461f,#f53116,#f51e10,#f51d10,#f53317,#f64f24,#f56f36,#f2904e)"></i><i style="background:linear-gradient(90deg,#d5c988,#e6c075,#eda861,#f19350,#f38344,#f4783d,#f57339,#f57339,#f5763b,#f47b3f,#f48143,#f38647,#f28c4b,#f2914e,#f19552,#f09a55,#ef9e59,#efa25c,#eea65f,#eda861,#eda961,#eda760,#efa25c,#f09a56,#f28e4c,#f47f41,#f56d35,#f65929,#f6441e,#f53317,#f52e15,#f63b1a,#f65326,#f57037,#f2904e)"></i><i style="background:linear-gradient(90deg,#ccc48d,#e2cb7e,#eab46a,#efa05a,#f2914f,#f38748,#f38344,#f38445,#f38848,#f28d4c,#f19451,#f09a56,#efa05b,#eea65f,#ecab64,#ebb068,#eab56c,#e8ba6f,#e7bd72,#e6bf74,#e6c075,#e7be73,#e9b86e,#ebb067,#eea35d,#f19451,#f48243,#f56e36,#f65c2b,#f64d23,#f6471f,#f64d23,#f65f2d,#f4793d,#f19653)"></i></div>
<svg width="1119" height="404" viewBox="0 0 1119 404">
<g stroke="#333333" stroke-width="1.05">
<line x1="50.9" y1="207.58" x2="54" y2="207.58"/><line x1="50.9" y1="180.42" x2="54" y2="180.42"/><line x1="50.9" y1="153.25" x2="54" y2="153.25"/><line x1="50.9" y1="126.08" x2="54" y2="126.08"/><line x1="57.98" y1="212.2" x2="57.98" y2="215.3"/><line x1="87.68" y1="212.2" x2="87.68" y2="215.3"/><line x1="117.38" y1="212.2" x2="117.38" y2="215.3"/><line x1="147.09" y1="212.2" x2="147.09" y2="215.3"/><line x1="207.6" y1="207.58" x2="210.7" y2="207.58"/><line x1="207.6" y1="180.42" x2="210.7" y2="180.42"/><line x1="207.6" y1="153.25" x2="210.7" y2="153.25"/><line x1="207.6" y1="126.08" x2="210.7" y2="126.08"/><line x1="214.67" y1="212.2" x2="214.67" y2="215.3"/><line x1="244.32" y1="212.2" x2="244.32" y2="215.3"/><line x1="273.97" y1="212.2" x2="273.97" y2="215.3"/><line x1="303.62" y1="212.2" x2="303.62" y2="215.3"/><line x1="364.5" y1="207.58" x2="367.6" y2="207.58"/><line x1="364.5" y1="180.42" x2="367.6" y2="180.42"/><line x1="364.5" y1="153.25" x2="367.6" y2="153.25"/><line x1="364.5" y1="126.08" x2="367.6" y2="126.08"/><line x1="372.75" y1="212.2" x2="372.75" y2="215.3"/><line x1="401.42" y1="212.2" x2="401.42" y2="215.3"/><line x1="430.09" y1="212.2" x2="430.09" y2="215.3"/><line x1="458.76" y1="212.2" x2="458.76" y2="215.3"/><line x1="522" y1="207.58" x2="525.1" y2="207.58"/><line x1="522" y1="180.42" x2="525.1" y2="180.42"/><line x1="522" y1="153.25" x2="525.1" y2="153.25"/><line x1="522" y1="126.08" x2="525.1" y2="126.08"/><line x1="529.03" y1="212.2" x2="529.03" y2="215.3"/><line x1="558.4" y1="212.2" x2="558.4" y2="215.3"/><line x1="587.76" y1="212.2" x2="587.76" y2="215.3"/><line x1="617.12" y1="212.2" x2="617.12" y2="215.3"/><line x1="678" y1="207.58" x2="681.1" y2="207.58"/><line x1="678" y1="175.73" x2="681.1" y2="175.73"/><line x1="678" y1="143.88" x2="681.1" y2="143.88"/><line x1="678" y1="112.03" x2="681.1" y2="112.03"/><line x1="688.7" y1="212.2" x2="688.7" y2="215.3"/><line x1="717.52" y1="212.2" x2="717.52" y2="215.3"/><line x1="746.35" y1="212.2" x2="746.35" y2="215.3"/><line x1="775.17" y1="212.2" x2="775.17" y2="215.3"/><line x1="834.3" y1="207.58" x2="837.4" y2="207.58"/><line x1="834.3" y1="175.73" x2="837.4" y2="175.73"/><line x1="834.3" y1="143.88" x2="837.4" y2="143.88"/><line x1="834.3" y1="112.03" x2="837.4" y2="112.03"/><line x1="843.16" y1="212.2" x2="843.16" y2="215.3"/><line x1="873.3" y1="212.2" x2="873.3" y2="215.3"/><line x1="903.44" y1="212.2" x2="903.44" y2="215.3"/><line x1="933.59" y1="212.2" x2="933.59" y2="215.3"/><line x1="1000" y1="207.58" x2="1003.1" y2="207.58"/><line x1="1000" y1="184.13" x2="1003.1" y2="184.13"/><line x1="1000" y1="160.68" x2="1003.1" y2="160.68"/><line x1="1000" y1="137.23" x2="1003.1" y2="137.23"/><line x1="1000" y1="113.77" x2="1003.1" y2="113.77"/><line x1="1007.87" y1="212.2" x2="1007.87" y2="215.3"/><line x1="1035.92" y1="212.2" x2="1035.92" y2="215.3"/><line x1="1063.96" y1="212.2" x2="1063.96" y2="215.3"/><line x1="1092.01" y1="212.2" x2="1092.01" y2="215.3"/><line x1="50.9" y1="352.75" x2="54" y2="352.75"/><line x1="50.9" y1="321.47" x2="54" y2="321.47"/><line x1="50.9" y1="290.19" x2="54" y2="290.19"/><line x1="50.9" y1="258.91" x2="54" y2="258.91"/><line x1="57.98" y1="355.8" x2="57.98" y2="358.9"/><line x1="87.68" y1="355.8" x2="87.68" y2="358.9"/><line x1="117.38" y1="355.8" x2="117.38" y2="358.9"/><line x1="147.09" y1="355.8" x2="147.09" y2="358.9"/><line x1="207.6" y1="352.75" x2="210.7" y2="352.75"/><line x1="207.6" y1="321.47" x2="210.7" y2="321.47"/><line x1="207.6" y1="290.19" x2="210.7" y2="290.19"/><line x1="207.6" y1="258.91" x2="210.7" y2="258.91"/><line x1="214.67" y1="355.8" x2="214.67" y2="358.9"/><line x1="244.32" y1="355.8" x2="244.32" y2="358.9"/><line x1="273.97" y1="355.8" x2="273.97" y2="358.9"/><line x1="303.62" y1="355.8" x2="303.62" y2="358.9"/><line x1="364.5" y1="351.19" x2="367.6" y2="351.19"/><line x1="364.5" y1="320.92" x2="367.6" y2="320.92"/><line x1="364.5" y1="290.65" x2="367.6" y2="290.65"/><line x1="364.5" y1="260.38" x2="367.6" y2="260.38"/><line x1="372.75" y1="355.8" x2="372.75" y2="358.9"/><line x1="401.42" y1="355.8" x2="401.42" y2="358.9"/><line x1="430.09" y1="355.8" x2="430.09" y2="358.9"/><line x1="458.76" y1="355.8" x2="458.76" y2="358.9"/><line x1="522" y1="352.75" x2="525.1" y2="352.75"/><line x1="522" y1="321.47" x2="525.1" y2="321.47"/><line x1="522" y1="290.19" x2="525.1" y2="290.19"/><line x1="522" y1="258.91" x2="525.1" y2="258.91"/><line x1="529.03" y1="355.8" x2="529.03" y2="358.9"/><line x1="558.4" y1="355.8" x2="558.4" y2="358.9"/><line x1="587.76" y1="355.8" x2="587.76" y2="358.9"/><line x1="617.12" y1="355.8" x2="617.12" y2="358.9"/><line x1="678" y1="351.19" x2="681.1" y2="351.19"/><line x1="678" y1="331.96" x2="681.1" y2="331.96"/><line x1="678" y1="312.74" x2="681.1" y2="312.74"/><line x1="678" y1="293.52" x2="681.1" y2="293.52"/><line x1="678" y1="274.29" x2="681.1" y2="274.29"/><line x1="678" y1="255.07" x2="681.1" y2="255.07"/><line x1="688.7" y1="355.8" x2="688.7" y2="358.9"/><line x1="721.92" y1="355.8" x2="721.92" y2="358.9"/><line x1="755.14" y1="355.8" x2="755.14" y2="358.9"/><line x1="788.37" y1="355.8" x2="788.37" y2="358.9"/><line x1="842.6" y1="351.19" x2="845.7" y2="351.19"/><line x1="842.6" y1="331.96" x2="845.7" y2="331.96"/><line x1="842.6" y1="312.74" x2="845.7" y2="312.74"/><line x1="842.6" y1="293.52" x2="845.7" y2="293.52"/><line x1="842.6" y1="274.29" x2="845.7" y2="274.29"/><line x1="842.6" y1="255.07" x2="845.7" y2="255.07"/><line x1="850" y1="355.8" x2="850" y2="358.9"/><line x1="881.89" y1="355.8" x2="881.89" y2="358.9"/><line x1="913.78" y1="355.8" x2="913.78" y2="358.9"/><line x1="945.66" y1="355.8" x2="945.66" y2="358.9"/><line x1="1000" y1="351.19" x2="1003.1" y2="351.19"/><line x1="1000" y1="322.97" x2="1003.1" y2="322.97"/><line x1="1000" y1="294.76" x2="1003.1" y2="294.76"/><line x1="1000" y1="266.54" x2="1003.1" y2="266.54"/><line x1="1006.25" y1="355.8" x2="1006.25" y2="358.9"/><line x1="1038.58" y1="355.8" x2="1038.58" y2="358.9"/><line x1="1070.91" y1="355.8" x2="1070.91" y2="358.9"/><line x1="1103.23" y1="355.8" x2="1103.23" y2="358.9"/>
</g>
<polyline class="ln" points="59.2,207.6 59.4,207.6 59.7,207.6 60.1,207.6 60.4,207.6 60.6,207.6 61.0,207.6 61.3,207.6 61.5,207.6 61.8,207.6 62.1,207.6 62.5,207.6 62.7,207.6 63.0,207.6 63.3,207.6 63.7,207.6 63.9,207.6 64.2,207.6 64.5,207.6 64.9,207.6 65.1,207.6 65.3,207.6 65.7,207.6 66.1,207.6 66.3,207.6 66.5,207.6 66.9,207.6 67.2,207.6 67.5,207.6 67.7,207.6 68.1,207.6 68.4,207.6 68.7,207.6 68.9,207.6 69.3,207.6 69.6,207.6 69.9,207.6 70.1,207.6 70.5,207.6 70.8,207.6 71.0,207.6 71.3,207.6 71.6,207.8 72.0,207.8 72.2,207.6 72.5,206.5 72.8,204.7 73.2,202.9 73.4,202.1 73.7,202.9 74.0,204.7 74.4,206.5 74.6,207.6 74.9,207.8 75.2,207.8 75.6,207.6 75.8,207.6 76.0,207.6 76.4,207.8 76.7,207.8 77.0,207.6 77.2,206.5 77.6,204.7 77.9,202.9 78.2,202.1 78.4,202.9 78.8,204.7 79.1,206.5 79.4,207.6 79.6,207.8 80.0,207.8 80.3,207.6 80.6,207.6 80.8,207.8 81.1,208.1 81.5,208.2 81.7,207.6 82.0,204.5 82.3,199.1 82.7,193.8 82.9,191.3 83.2,192.6 83.5,196.0 83.9,199.8 84.1,202.1 84.4,203.5 84.7,205.2 85.1,206.7 85.3,207.6 85.5,207.8 85.9,207.8 86.3,207.6 86.5,207.6 86.7,207.6 87.1,207.6 87.4,207.6 87.7,207.6 87.9,207.6 88.3,207.6 88.6,207.6 88.9,207.6 89.1,207.7 89.5,207.9 89.8,208.0 90.1,207.6 90.3,205.5 90.7,201.8 91.0,198.3 91.2,196.7 91.5,198.4 91.8,202.1 92.2,205.9 92.4,207.6 92.7,205.9 93.0,202.3 93.4,198.6 93.6,196.7 93.9,197.2 94.2,198.9 94.6,200.9 94.8,202.1 95.1,203.3 95.4,205.0 95.8,206.7 96.0,207.6 96.2,207.8 96.6,207.8 96.9,207.6 97.2,207.6 97.4,208.0 97.8,208.6 98.1,208.7 98.4,207.6 98.6,201.6 99.0,190.9 99.3,180.5 99.6,175.0 99.8,175.9 100.2,179.6 100.5,183.7 100.8,185.8 101.0,185.3 101.3,183.5 101.7,181.5 101.9,180.4 102.2,180.1 102.5,179.9 102.9,180.0 103.1,180.4 103.4,182.6 103.7,186.4 104.1,189.9 104.3,191.3 104.6,188.4 104.9,182.6 105.3,177.1 105.5,175.0 105.7,179.4 106.1,188.2 106.5,197.3 106.7,202.1 106.9,202.3 107.3,200.6 107.6,198.4 107.9,196.7 108.1,194.5 108.5,190.9 108.8,187.5 109.1,185.8 109.3,186.4 109.7,188.1 110.0,190.0 110.3,191.3 110.5,192.6 110.8,194.5 111.2,196.2 111.4,196.7 111.7,194.8 112.0,191.1 112.4,187.5 112.6,185.8 112.9,187.5 113.2,191.1 113.6,194.8 113.8,196.7 114.1,196.1 114.4,194.3 114.8,192.4 115.0,191.3 115.2,191.2 115.6,191.3 116.0,191.4 116.2,191.3 116.4,190.6 116.8,189.4 117.1,187.8 117.4,185.8 117.6,180.6 118.0,171.6 118.3,162.9 118.6,158.7 118.8,160.5 119.2,165.6 119.5,171.4 119.8,175.0 120.0,177.4 120.4,180.8 120.7,183.9 120.9,185.8 121.2,187.6 121.5,189.9 121.9,191.6 122.1,191.3 122.4,185.6 122.7,175.0 123.1,164.4 123.3,158.7 123.6,158.2 123.9,159.5 124.3,161.8 124.5,164.1 124.8,169.3 125.1,178.0 125.5,186.7 125.7,191.3 125.9,191.3 126.3,189.6 126.6,187.3 126.9,185.8 127.1,184.7 127.5,183.1 127.8,181.5 128.1,180.4 128.3,179.0 128.7,176.9 129.0,175.1 129.3,175.0 129.5,178.9 129.9,186.2 130.2,193.3 130.5,196.7 130.7,194.6 131.0,189.2 131.4,183.6 131.6,180.4 131.9,179.8 132.2,179.7 132.6,180.0 132.8,180.4 133.1,181.3 133.4,182.8 133.8,184.5 134.0,185.8 134.3,187.9 134.6,191.1 135.0,194.4 135.2,196.7 135.4,200.1 135.8,205.4 136.2,209.0 136.4,207.6 136.6,190.5 137.0,159.4 137.3,129.3 137.6,115.2 137.8,125.8 138.2,150.7 138.5,176.9 138.8,191.3 139.0,192.1 139.4,188.4 139.7,183.5 140.0,180.4 140.2,178.9 140.6,177.0 140.9,175.4 141.1,175.0 141.4,176.6 141.7,179.9 142.1,183.5 142.3,185.8 142.6,188.1 142.9,191.5 143.3,194.7 143.5,196.7 143.8,198.2 144.1,200.1 144.5,201.7 144.7,202.1 145.0,200.3 145.3,196.5 145.7,192.9 145.9,191.3 146.1,192.9 146.5,196.4 146.8,200.1 147.1,202.1 147.3,202.5 147.7,202.5 148.0,202.3 148.3,202.1 148.5,202.1 148.9,202.1 149.2,202.1 149.5,202.1 149.7,202.2 150.1,202.3 150.4,202.3 150.7,202.1 150.9,201.1 151.2,199.3 151.6,197.5 151.8,196.7 152.1,197.6 152.4,199.4 152.8,201.3 153.0,202.1 153.3,201.3 153.6,199.4 154.0,197.6 154.2,196.7 154.5,197.4 154.8,199.1 155.2,200.9 155.4,202.1 155.6,203.4 156.0,205.2 156.4,206.9 156.6,207.6 156.8,206.8 157.2,205.0 157.5,203.2 157.8,202.1 158.0,202.0 158.4,202.0 158.7,202.1 159.0,202.1 159.2,202.2 159.6,202.3 159.9,202.3 160.2,202.1 160.4,201.1 160.7,199.3 161.1,197.5 161.3,196.7 161.6,197.5 162.0,199.3 162.3,201.1 162.5,202.1"/><text class="yl" x="47.8" y="211.48">0</text><text class="yl" x="47.8" y="184.32">5</text><text class="yl" x="47.8" y="157.15">10</text><text class="yl" x="47.8" y="129.98">15</text><text class="xl" x="57.98" y="226.3">0</text><text class="xl" x="87.68" y="226.3">25</text><text class="xl" x="117.38" y="226.3">50</text><text class="xl" x="147.09" y="226.3">75</text><text class="tt" x="110.85" y="239.3">seq</text><text class="tt" transform="translate(31.9,161.4) rotate(-90)">ncases</text><g fill="#000"><circle cx="215.9" cy="207.6" r="1.0"/><circle cx="217.0" cy="207.6" r="1.0"/><circle cx="218.2" cy="207.6" r="1.0"/><circle cx="219.4" cy="207.6" r="1.0"/><circle cx="220.6" cy="207.6" r="1.0"/><circle cx="221.8" cy="207.6" r="1.0"/><circle cx="223.0" cy="207.6" r="1.0"/><circle cx="224.2" cy="207.6" r="1.0"/><circle cx="225.3" cy="207.6" r="1.0"/><circle cx="226.5" cy="207.6" r="1.0"/><circle cx="227.7" cy="207.6" r="1.0"/><circle cx="228.9" cy="207.6" r="1.0"/><circle cx="230.1" cy="202.1" r="1.0"/><circle cx="231.3" cy="207.6" r="1.0"/><circle cx="232.5" cy="207.6" r="1.0"/><circle cx="233.6" cy="207.6" r="1.0"/><circle cx="234.8" cy="202.1" r="1.0"/><circle cx="236.0" cy="207.6" r="1.0"/><circle cx="237.2" cy="207.6" r="1.0"/><circle cx="238.4" cy="207.6" r="1.0"/><circle cx="239.6" cy="191.3" r="1.0"/><circle cx="240.8" cy="202.1" r="1.0"/><circle cx="242.0" cy="207.6" r="1.0"/><circle cx="243.1" cy="207.6" r="1.0"/><circle cx="244.3" cy="207.6" r="1.0"/><circle cx="245.5" cy="207.6" r="1.0"/><circle cx="246.7" cy="207.6" r="1.0"/><circle cx="247.9" cy="196.7" r="1.0"/><circle cx="249.1" cy="207.6" r="1.0"/><circle cx="250.3" cy="196.7" r="1.0"/><circle cx="251.4" cy="202.1" r="1.0"/><circle cx="252.6" cy="207.6" r="1.0"/><circle cx="253.8" cy="207.6" r="1.0"/><circle cx="255.0" cy="207.6" r="1.0"/><circle cx="256.2" cy="175.0" r="1.0"/><circle cx="257.4" cy="185.8" r="1.0"/><circle cx="258.6" cy="180.4" r="1.0"/><circle cx="259.7" cy="180.4" r="1.0"/><circle cx="260.9" cy="191.3" r="1.0"/><circle cx="262.1" cy="175.0" r="1.0"/><circle cx="263.3" cy="202.1" r="1.0"/><circle cx="264.5" cy="196.7" r="1.0"/><circle cx="265.7" cy="185.8" r="1.0"/><circle cx="266.9" cy="191.3" r="1.0"/><circle cx="268.0" cy="196.7" r="1.0"/><circle cx="269.2" cy="185.8" r="1.0"/><circle cx="270.4" cy="196.7" r="1.0"/><circle cx="271.6" cy="191.3" r="1.0"/><circle cx="272.8" cy="191.3" r="1.0"/><circle cx="274.0" cy="185.8" r="1.0"/><circle cx="275.2" cy="158.7" r="1.0"/><circle cx="276.3" cy="175.0" r="1.0"/><circle cx="277.5" cy="185.8" r="1.0"/><circle cx="278.7" cy="191.3" r="1.0"/><circle cx="279.9" cy="158.7" r="1.0"/><circle cx="281.1" cy="164.1" r="1.0"/><circle cx="282.3" cy="191.3" r="1.0"/><circle cx="283.5" cy="185.8" r="1.0"/><circle cx="284.6" cy="180.4" r="1.0"/><circle cx="285.8" cy="175.0" r="1.0"/><circle cx="287.0" cy="196.7" r="1.0"/><circle cx="288.2" cy="180.4" r="1.0"/><circle cx="289.4" cy="180.4" r="1.0"/><circle cx="290.6" cy="185.8" r="1.0"/><circle cx="291.8" cy="196.7" r="1.0"/><circle cx="292.9" cy="207.6" r="1.0"/><circle cx="294.1" cy="115.2" r="1.0"/><circle cx="295.3" cy="191.3" r="1.0"/><circle cx="296.5" cy="180.4" r="1.0"/><circle cx="297.7" cy="175.0" r="1.0"/><circle cx="298.9" cy="185.8" r="1.0"/><circle cx="300.1" cy="196.7" r="1.0"/><circle cx="301.3" cy="202.1" r="1.0"/><circle cx="302.4" cy="191.3" r="1.0"/><circle cx="303.6" cy="202.1" r="1.0"/><circle cx="304.8" cy="202.1" r="1.0"/><circle cx="306.0" cy="202.1" r="1.0"/><circle cx="307.2" cy="202.1" r="1.0"/><circle cx="308.4" cy="196.7" r="1.0"/><circle cx="309.6" cy="202.1" r="1.0"/><circle cx="310.7" cy="196.7" r="1.0"/><circle cx="311.9" cy="202.1" r="1.0"/><circle cx="313.1" cy="207.6" r="1.0"/><circle cx="314.3" cy="202.1" r="1.0"/><circle cx="315.5" cy="202.1" r="1.0"/><circle cx="316.7" cy="202.1" r="1.0"/><circle cx="317.9" cy="196.7" r="1.0"/><circle cx="319.0" cy="202.1" r="1.0"/></g><text class="yl" x="204.5" y="211.48">0</text><text class="yl" x="204.5" y="184.32">5</text><text class="yl" x="204.5" y="157.15">10</text><text class="yl" x="204.5" y="129.98">15</text><text class="xl" x="214.67" y="226.3">0</text><text class="xl" x="244.32" y="226.3">25</text><text class="xl" x="273.97" y="226.3">50</text><text class="xl" x="303.62" y="226.3">75</text><text class="tt" x="267.45" y="239.3">seq</text><text class="tt" transform="translate(188.7,161.4) rotate(-90)">ncases</text><path fill="#000" d="M372.75,204.50H376.08V207.58H372.75ZM376.08,204.50H379.41V207.58H376.08ZM379.41,204.50H382.73V207.58H379.41ZM382.73,204.50H386.06V207.58H382.73ZM386.06,204.50H389.38V207.58H386.06ZM386.06,201.42H389.38V204.50H386.06ZM389.38,204.50H392.71V207.58H389.38ZM389.38,201.42H392.71V204.50H389.38ZM392.71,204.50H396.03V207.58H392.71ZM396.03,204.50H399.36V207.58H396.03ZM396.03,201.42H399.36V204.50H396.03ZM396.03,189.11H399.36V192.19H396.03ZM399.36,204.50H402.68V207.58H399.36ZM402.68,204.50H406.01V207.58H402.68ZM402.68,195.27H406.01V198.35H402.68ZM406.01,201.42H409.34V204.50H406.01ZM406.01,195.27H409.34V198.35H406.01ZM409.34,204.50H412.66V207.58H409.34ZM412.66,182.95H415.99V186.03H412.66ZM412.66,179.87H415.99V182.95H412.66ZM412.66,173.72H415.99V176.79H412.66ZM415.99,189.11H419.31V192.19H415.99ZM415.99,179.87H419.31V182.95H415.99ZM415.99,173.72H419.31V176.79H415.99ZM419.31,201.42H422.64V204.50H419.31ZM419.31,195.27H422.64V198.35H419.31ZM419.31,182.95H422.64V186.03H419.31ZM422.64,195.27H425.96V198.35H422.64ZM422.64,189.11H425.96V192.19H422.64ZM422.64,182.95H425.96V186.03H422.64ZM425.96,195.27H429.29V198.35H425.96ZM425.96,189.11H429.29V192.19H425.96ZM429.29,182.95H432.61V186.03H429.29ZM429.29,173.72H432.61V176.79H429.29ZM429.29,158.32H432.61V161.40H429.29ZM432.61,189.11H435.94V192.19H432.61ZM432.61,182.95H435.94V186.03H432.61ZM432.61,158.32H435.94V161.40H432.61ZM435.94,189.11H439.26V192.19H435.94ZM435.94,182.95H439.26V186.03H435.94ZM435.94,161.40H439.26V164.48H435.94ZM439.26,179.87H442.59V182.95H439.26ZM439.26,173.72H442.59V176.79H439.26ZM442.59,195.27H445.92V198.35H442.59ZM442.59,179.87H445.92V182.95H442.59ZM445.92,204.50H449.24V207.58H445.92ZM445.92,195.27H449.24V198.35H445.92ZM445.92,182.95H449.24V186.03H445.92ZM449.24,189.11H452.57V192.19H449.24ZM449.24,179.87H452.57V182.95H449.24ZM449.24,115.22H452.57V118.30H449.24ZM452.57,195.27H455.89V198.35H452.57ZM452.57,182.95H455.89V186.03H452.57ZM452.57,173.72H455.89V176.79H452.57ZM455.89,201.42H459.22V204.50H455.89ZM455.89,189.11H459.22V192.19H455.89ZM459.22,201.42H462.54V204.50H459.22ZM462.54,201.42H465.87V204.50H462.54ZM462.54,195.27H465.87V198.35H462.54ZM465.87,204.50H469.19V207.58H465.87ZM465.87,201.42H469.19V204.50H465.87ZM469.19,201.42H472.52V204.50H469.19ZM469.19,195.27H472.52V198.35H469.19ZM472.52,201.42H475.85V204.50H472.52Z"/><text class="yl" x="361.4" y="211.48">0</text><text class="yl" x="361.4" y="184.32">5</text><text class="yl" x="361.4" y="157.15">10</text><text class="yl" x="361.4" y="129.98">15</text><text class="xl" x="372.75" y="226.3">0</text><text class="xl" x="401.42" y="226.3">25</text><text class="xl" x="430.09" y="226.3">50</text><text class="xl" x="458.76" y="226.3">75</text><text class="tt" x="424.3" y="239.3">seq</text><text class="tt" transform="translate(345.5,161.4) rotate(-90)">ncases</text><text class="yl" x="518.9" y="211.48">0</text><text class="yl" x="518.9" y="184.32">5</text><text class="yl" x="518.9" y="157.15">10</text><text class="yl" x="518.9" y="129.98">15</text><text class="xl" x="529.03" y="226.3">0</text><text class="xl" x="558.4" y="226.3">25</text><text class="xl" x="587.76" y="226.3">50</text><text class="xl" x="617.12" y="226.3">75</text><text class="tt" x="581.3" y="239.3">seq</text><text class="tt" transform="translate(502.3,161.4) rotate(-90)">ncases</text><path d="M686.25,207.58V115.22H691.15V156.62H696.05V172.55H700.95V207.58H705.85V178.92H710.75V182.10H715.65V188.47H720.55V191.66H725.45V207.58H730.35V204.40H735.25V207.58H740.15V201.21H745.05V207.58H749.95V207.58H754.85V207.58H759.75V207.58H764.65V207.58H769.55V207.58H774.45V207.58H779.35V207.58H784.25V204.40H789.15V207.58Z" fill="#000" stroke="#000" stroke-width="0.5"/><text class="yl" x="674.9" y="211.48">0</text><text class="yl" x="674.9" y="179.63">10</text><text class="yl" x="674.9" y="147.78">20</text><text class="yl" x="674.9" y="115.93">30</text><text class="xl" x="688.7" y="226.3">0</text><text class="xl" x="717.52" y="226.3">5</text><text class="xl" x="746.35" y="226.3">10</text><text class="xl" x="775.17" y="226.3">15</text><text class="tt" x="737.7" y="239.3">ncases</text><text class="tt" transform="translate(659.1,161.4) rotate(-90)">count</text><g fill-opacity="0.95"><rect x="842.61" y="115.22" width="1.1" height="92.36" fill="#f5140e"/><rect x="848.64" y="156.62" width="1.1" height="50.96" fill="#e4c57a"/><rect x="854.66" y="172.55" width="1.1" height="35.03" fill="#b9ba97"/><rect x="860.69" y="178.92" width="1.1" height="28.66" fill="#a4b0a0"/><rect x="866.72" y="182.10" width="1.1" height="25.48" fill="#99aba5"/><rect x="872.75" y="188.47" width="1.1" height="19.11" fill="#80a1ad"/><rect x="878.78" y="191.66" width="1.1" height="15.92" fill="#739db2"/><rect x="890.84" y="204.40" width="1.1" height="3.18" fill="#008ac2"/><rect x="896.86" y="201.21" width="1.1" height="6.37" fill="#388fbe"/><rect x="945.09" y="204.40" width="1.1" height="3.18" fill="#008ac2"/></g><text class="yl" x="831.2" y="211.48">0</text><text class="yl" x="831.2" y="179.63">10</text><text class="yl" x="831.2" y="147.78">20</text><text class="yl" x="831.2" y="115.93">30</text><text class="xl" x="843.16" y="226.3">0</text><text class="xl" x="873.3" y="226.3">5</text><text class="xl" x="903.44" y="226.3">10</text><text class="xl" x="933.59" y="226.3">15</text><text class="tt" x="894.4" y="239.3">ncases</text><text class="tt" transform="translate(815.9,161.4) rotate(-90)">count</text><path d="M1007.87,207.58L1007.87,122.50L1008.61,119.31L1009.36,117.04L1010.11,115.68L1010.85,115.22L1011.60,115.58L1012.35,116.68L1013.09,118.40L1013.84,120.62L1014.59,123.22L1015.33,126.08L1016.08,129.09L1016.83,132.16L1017.57,135.19L1018.32,138.14L1019.07,140.96L1019.81,143.62L1020.56,146.10L1021.30,148.39L1022.05,150.51L1022.80,152.45L1023.54,154.24L1024.29,155.89L1025.04,157.41L1025.78,158.84L1026.53,160.17L1027.28,161.45L1028.02,162.67L1028.77,163.85L1029.52,165.01L1030.26,166.15L1031.01,167.29L1031.76,168.44L1032.50,169.60L1033.25,170.77L1034.00,171.97L1034.74,173.20L1035.49,174.46L1036.23,175.76L1036.98,177.11L1037.73,178.51L1038.47,179.97L1039.22,181.47L1039.97,183.02L1040.71,184.60L1041.46,186.22L1042.21,187.84L1042.95,189.46L1043.70,191.04L1044.45,192.57L1045.19,194.01L1045.94,195.36L1046.69,196.58L1047.43,197.66L1048.18,198.59L1048.92,199.36L1049.67,199.99L1050.42,200.47L1051.16,200.83L1051.91,201.08L1052.66,201.23L1053.40,201.33L1054.15,201.39L1054.90,201.43L1055.64,201.48L1056.39,201.55L1057.14,201.67L1057.88,201.83L1058.63,202.04L1059.38,202.31L1060.12,202.62L1060.87,202.98L1061.62,203.38L1062.36,203.79L1063.11,204.22L1063.85,204.64L1064.60,205.05L1065.35,205.43L1066.09,205.79L1066.84,206.11L1067.59,206.39L1068.33,206.64L1069.08,206.84L1069.83,207.01L1070.57,207.15L1071.32,207.26L1072.07,207.35L1072.81,207.41L1073.56,207.46L1074.31,207.50L1075.05,207.53L1075.80,207.54L1076.54,207.56L1077.29,207.57L1078.04,207.57L1078.78,207.58L1079.53,207.58L1080.28,207.58L1081.02,207.58L1081.77,207.58L1082.52,207.58L1083.26,207.58L1084.01,207.57L1084.76,207.57L1085.50,207.57L1086.25,207.56L1087.00,207.55L1087.74,207.53L1088.49,207.51L1089.24,207.48L1089.98,207.44L1090.73,207.40L1091.47,207.34L1092.22,207.26L1092.97,207.17L1093.71,207.07L1094.46,206.94L1095.21,206.81L1095.95,206.66L1096.70,206.50L1097.45,206.33L1098.19,206.16L1098.94,206.00L1099.69,205.85L1100.43,205.72L1101.18,205.61L1101.93,205.54L1102.67,205.49L1103.23,205.48L1103.23,207.58Z" fill="#000" stroke="#000" stroke-width="0.6"/><text class="yl" x="996.9" y="211.48">0.00</text><text class="yl" x="996.9" y="188.03">0.05</text><text class="yl" x="996.9" y="164.58">0.10</text><text class="yl" x="996.9" y="141.13">0.15</text><text class="yl" x="996.9" y="117.67">0.20</text><text class="xl" x="1007.87" y="226.3">0</text><text class="xl" x="1035.92" y="226.3">5</text><text class="xl" x="1063.96" y="226.3">10</text><text class="xl" x="1092.01" y="226.3">15</text><text class="tt" x="1055.55" y="239.3">ncases</text><text class="tt" transform="translate(972.7,161.4) rotate(-90)">density</text><polyline class="ln" points="59.2,290.2 59.4,298.5 59.7,313.5 60.1,328.5 60.4,337.1 60.6,339.9 61.0,341.7 61.3,342.7 61.5,343.4 61.8,344.3 62.1,345.4 62.5,345.9 62.7,344.9 63.0,338.4 63.3,326.8 63.7,315.6 63.9,310.5 64.2,314.9 64.5,324.9 64.9,335.6 65.1,341.8 65.3,343.8 65.7,345.3 66.1,346.2 66.3,346.5 66.5,345.7 66.9,344.1 67.2,342.4 67.5,341.8 67.7,343.0 68.1,345.5 68.4,348.1 68.7,349.6 68.9,350.2 69.3,350.7 69.6,351.1 69.9,351.2 70.1,350.9 70.5,350.4 70.8,349.9 71.0,349.6 71.3,349.8 71.6,350.4 72.0,350.9 72.2,351.2 72.5,351.2 72.8,351.2 73.2,351.2 73.4,351.2 73.7,351.2 74.0,351.2 74.4,351.2 74.6,351.2 74.9,352.0 75.2,353.2 75.6,353.1 75.8,349.6 76.0,332.4 76.4,302.0 76.7,272.7 77.0,258.9 77.2,268.5 77.6,291.7 77.9,316.5 78.2,330.9 78.4,335.4 78.8,338.6 79.1,340.7 79.4,341.8 79.6,342.4 80.0,342.7 80.3,342.1 80.6,340.2 80.8,332.4 81.1,318.5 81.5,304.9 81.7,298.0 82.0,299.7 82.3,305.6 82.7,312.4 82.9,316.8 83.2,319.9 83.5,324.1 83.9,328.2 84.1,330.9 84.4,333.1 84.7,336.1 85.1,338.9 85.3,340.2 85.5,339.6 85.9,337.9 86.3,336.2 86.5,335.5 86.7,336.7 87.1,339.1 87.4,341.7 87.7,343.4 87.9,344.7 88.3,346.7 88.6,348.5 88.9,349.6 89.1,350.2 89.5,350.7 89.8,351.1 90.1,351.2 90.3,350.7 90.7,349.7 91.0,348.6 91.2,348.1 91.5,348.0 91.8,348.0 92.2,348.1 92.4,348.1 92.7,348.5 93.0,349.3 93.4,349.1 93.6,346.5 93.9,334.1 94.2,312.2 94.6,291.1 94.8,280.8 95.1,286.2 95.4,300.3 95.8,315.5 96.0,324.6 96.2,328.3 96.6,331.9 96.9,335.0 97.2,337.1 97.4,339.9 97.8,343.9 98.1,346.8 98.4,346.5 98.6,337.0 99.0,319.4 99.3,302.1 99.6,293.3 99.8,296.1 100.2,304.7 100.5,314.2 100.8,319.9 101.0,322.4 101.3,325.0 101.7,327.5 101.9,329.3 102.2,332.0 102.5,336.3 102.9,340.2 103.1,341.8 103.4,339.7 103.7,335.1 104.1,330.3 104.3,327.7 104.6,327.6 104.9,328.4 105.3,329.6 105.5,330.9 105.7,333.5 106.1,337.9 106.5,342.4 106.7,344.9 106.9,345.7 107.3,346.2 107.6,346.4 107.9,346.5 108.1,346.5 108.5,346.5 108.8,346.5 109.1,346.5 109.3,346.5 109.7,346.4 110.0,346.4 110.3,346.5 110.5,346.8 110.8,347.3 111.2,347.8 111.4,348.1 111.7,348.7 112.0,349.5 112.4,349.3 112.6,346.5 112.9,333.3 113.2,309.9 113.6,287.3 113.8,276.1 114.1,281.0 114.4,294.5 114.8,309.4 115.0,318.3 115.2,322.5 115.6,327.2 116.0,331.3 116.2,334.0 116.4,336.8 116.8,340.8 117.1,343.7 117.4,343.4 117.6,333.8 118.0,316.1 118.3,298.8 118.6,290.2 118.8,293.6 119.2,303.2 119.5,313.7 119.8,319.9 120.0,321.9 120.4,323.4 120.7,324.8 120.9,326.2 121.2,329.7 121.5,335.5 121.9,341.0 122.1,343.4 122.4,340.5 122.7,334.4 123.1,328.0 123.3,324.6 123.6,324.6 123.9,325.9 124.3,327.7 124.5,329.3 124.8,331.9 125.1,336.4 125.5,340.8 125.7,343.4 125.9,344.5 126.3,345.7 126.6,346.4 126.9,346.5 127.1,344.9 127.5,341.8 127.8,338.7 128.1,337.1 128.3,337.6 128.7,339.0 129.0,340.6 129.3,341.8 129.5,343.1 129.9,345.2 130.2,347.2 130.5,348.1 130.7,348.2 131.0,348.0 131.4,346.6 131.6,343.4 131.9,330.8 132.2,308.7 132.6,287.6 132.8,277.7 133.1,284.8 133.4,301.9 133.8,320.1 134.0,330.9 134.3,334.6 134.6,337.7 135.0,340.2 135.2,341.8 135.4,344.2 135.8,347.6 136.2,350.1 136.4,349.6 136.6,340.5 137.0,323.7 137.3,307.3 137.6,299.6 137.8,304.5 138.2,316.7 138.5,329.7 138.8,337.1 139.0,338.8 139.4,339.3 139.7,339.1 140.0,338.7 140.2,337.6 140.6,335.5 140.9,333.5 141.1,332.4 141.4,332.3 141.7,332.6 142.1,333.1 142.3,334.0 142.6,336.5 142.9,341.0 143.3,345.4 143.5,348.1 143.8,349.2 144.1,350.2 144.5,351.0 144.7,351.2 145.0,350.4 145.3,348.8 145.7,347.3 145.9,346.5 146.1,346.9 146.5,347.9 146.8,349.0 147.1,349.6 147.3,350.0 147.7,350.5 148.0,350.9 148.3,351.2 148.5,351.6 148.9,352.1 149.2,352.1 149.5,351.2 149.7,346.2 150.1,337.3 150.4,328.7 150.7,324.6 150.9,327.0 151.2,333.0 151.6,339.5 151.8,343.4 152.1,344.9 152.4,346.4 152.8,347.5 153.0,348.1 153.3,347.6 153.6,346.5 154.0,345.4 154.2,344.9 154.5,345.4 154.8,346.4 155.2,347.5 155.4,348.1 155.6,348.1 156.0,348.1 156.4,348.0 156.6,348.1 156.8,348.6 157.2,349.6 157.5,350.6 157.8,351.2 158.0,351.3 158.4,351.3 158.7,351.2 159.0,351.2 159.2,351.2 159.6,351.2 159.9,351.2 160.2,351.2 160.4,350.9 160.7,350.4 161.1,349.8 161.3,349.6 161.6,349.8 162.0,350.4 162.3,350.9 162.5,351.2"/><text class="yl" x="47.8" y="356.65">0</text><text class="yl" x="47.8" y="325.37">20</text><text class="yl" x="47.8" y="294.09">40</text><text class="yl" x="47.8" y="262.81">60</text><text class="xl" x="57.98" y="369.9">0</text><text class="xl" x="87.68" y="369.9">25</text><text class="xl" x="117.38" y="369.9">50</text><text class="xl" x="147.09" y="369.9">75</text><text class="tt" x="110.85" y="382.9">seq</text><text class="tt" transform="translate(31.9,305.05) rotate(-90)">ncontrols</text><g fill="#000"><circle cx="215.9" cy="290.2" r="1.0"/><circle cx="217.0" cy="337.1" r="1.0"/><circle cx="218.2" cy="343.4" r="1.0"/><circle cx="219.4" cy="344.9" r="1.0"/><circle cx="220.6" cy="310.5" r="1.0"/><circle cx="221.8" cy="341.8" r="1.0"/><circle cx="223.0" cy="346.5" r="1.0"/><circle cx="224.2" cy="341.8" r="1.0"/><circle cx="225.3" cy="349.6" r="1.0"/><circle cx="226.5" cy="351.2" r="1.0"/><circle cx="227.7" cy="349.6" r="1.0"/><circle cx="228.9" cy="351.2" r="1.0"/><circle cx="230.1" cy="351.2" r="1.0"/><circle cx="231.3" cy="351.2" r="1.0"/><circle cx="232.5" cy="349.6" r="1.0"/><circle cx="233.6" cy="258.9" r="1.0"/><circle cx="234.8" cy="330.9" r="1.0"/><circle cx="236.0" cy="341.8" r="1.0"/><circle cx="237.2" cy="340.2" r="1.0"/><circle cx="238.4" cy="298.0" r="1.0"/><circle cx="239.6" cy="316.8" r="1.0"/><circle cx="240.8" cy="330.9" r="1.0"/><circle cx="242.0" cy="340.2" r="1.0"/><circle cx="243.1" cy="335.5" r="1.0"/><circle cx="244.3" cy="343.4" r="1.0"/><circle cx="245.5" cy="349.6" r="1.0"/><circle cx="246.7" cy="351.2" r="1.0"/><circle cx="247.9" cy="348.1" r="1.0"/><circle cx="249.1" cy="348.1" r="1.0"/><circle cx="250.3" cy="346.5" r="1.0"/><circle cx="251.4" cy="280.8" r="1.0"/><circle cx="252.6" cy="324.6" r="1.0"/><circle cx="253.8" cy="337.1" r="1.0"/><circle cx="255.0" cy="346.5" r="1.0"/><circle cx="256.2" cy="293.3" r="1.0"/><circle cx="257.4" cy="319.9" r="1.0"/><circle cx="258.6" cy="329.3" r="1.0"/><circle cx="259.7" cy="341.8" r="1.0"/><circle cx="260.9" cy="327.7" r="1.0"/><circle cx="262.1" cy="330.9" r="1.0"/><circle cx="263.3" cy="344.9" r="1.0"/><circle cx="264.5" cy="346.5" r="1.0"/><circle cx="265.7" cy="346.5" r="1.0"/><circle cx="266.9" cy="346.5" r="1.0"/><circle cx="268.0" cy="348.1" r="1.0"/><circle cx="269.2" cy="346.5" r="1.0"/><circle cx="270.4" cy="276.1" r="1.0"/><circle cx="271.6" cy="318.3" r="1.0"/><circle cx="272.8" cy="334.0" r="1.0"/><circle cx="274.0" cy="343.4" r="1.0"/><circle cx="275.2" cy="290.2" r="1.0"/><circle cx="276.3" cy="319.9" r="1.0"/><circle cx="277.5" cy="326.2" r="1.0"/><circle cx="278.7" cy="343.4" r="1.0"/><circle cx="279.9" cy="324.6" r="1.0"/><circle cx="281.1" cy="329.3" r="1.0"/><circle cx="282.3" cy="343.4" r="1.0"/><circle cx="283.5" cy="346.5" r="1.0"/><circle cx="284.6" cy="337.1" r="1.0"/><circle cx="285.8" cy="341.8" r="1.0"/><circle cx="287.0" cy="348.1" r="1.0"/><circle cx="288.2" cy="343.4" r="1.0"/><circle cx="289.4" cy="277.7" r="1.0"/><circle cx="290.6" cy="330.9" r="1.0"/><circle cx="291.8" cy="341.8" r="1.0"/><circle cx="292.9" cy="349.6" r="1.0"/><circle cx="294.1" cy="299.6" r="1.0"/><circle cx="295.3" cy="337.1" r="1.0"/><circle cx="296.5" cy="338.7" r="1.0"/><circle cx="297.7" cy="332.4" r="1.0"/><circle cx="298.9" cy="334.0" r="1.0"/><circle cx="300.1" cy="348.1" r="1.0"/><circle cx="301.3" cy="351.2" r="1.0"/><circle cx="302.4" cy="346.5" r="1.0"/><circle cx="303.6" cy="349.6" r="1.0"/><circle cx="304.8" cy="351.2" r="1.0"/><circle cx="306.0" cy="351.2" r="1.0"/><circle cx="307.2" cy="324.6" r="1.0"/><circle cx="308.4" cy="343.4" r="1.0"/><circle cx="309.6" cy="348.1" r="1.0"/><circle cx="310.7" cy="344.9" r="1.0"/><circle cx="311.9" cy="348.1" r="1.0"/><circle cx="313.1" cy="348.1" r="1.0"/><circle cx="314.3" cy="351.2" r="1.0"/><circle cx="315.5" cy="351.2" r="1.0"/><circle cx="316.7" cy="351.2" r="1.0"/><circle cx="317.9" cy="349.6" r="1.0"/><circle cx="319.0" cy="351.2" r="1.0"/></g><text class="yl" x="204.5" y="356.65">0</text><text class="yl" x="204.5" y="325.37">20</text><text class="yl" x="204.5" y="294.09">40</text><text class="yl" x="204.5" y="262.81">60</text><text class="xl" x="214.67" y="369.9">0</text><text class="xl" x="244.32" y="369.9">25</text><text class="xl" x="273.97" y="369.9">50</text><text class="xl" x="303.62" y="369.9">75</text><text class="tt" x="267.45" y="382.9">seq</text><text class="tt" transform="translate(188.7,305.05) rotate(-90)">ncontrols</text><path fill="#000" d="M372.75,333.33H376.08V336.30H372.75ZM372.75,288.68H376.08V291.66H372.75ZM376.08,342.26H379.41V345.23H376.08ZM376.08,339.28H379.41V342.26H376.08ZM376.08,309.51H379.41V312.49H376.08ZM379.41,342.26H382.73V345.23H379.41ZM379.41,339.28H382.73V342.26H379.41ZM382.73,348.21H386.06V351.19H382.73ZM382.73,345.23H386.06V348.21H382.73ZM386.06,348.21H389.38V351.19H386.06ZM389.38,345.23H392.71V348.21H389.38ZM389.38,327.37H392.71V330.35H389.38ZM389.38,258.91H392.71V261.89H389.38ZM392.71,339.28H396.03V342.26H392.71ZM392.71,336.30H396.03V339.28H392.71ZM392.71,297.61H396.03V300.59H392.71ZM396.03,336.30H399.36V339.28H396.03ZM396.03,327.37H399.36V330.35H396.03ZM396.03,315.47H399.36V318.44H396.03ZM399.36,345.23H402.68V348.21H399.36ZM399.36,339.28H402.68V342.26H399.36ZM399.36,333.33H402.68V336.30H399.36ZM402.68,348.21H406.01V351.19H402.68ZM402.68,345.23H406.01V348.21H402.68ZM406.01,342.26H409.34V345.23H406.01ZM406.01,279.75H409.34V282.73H406.01ZM409.34,342.26H412.66V345.23H409.34ZM409.34,333.33H412.66V336.30H409.34ZM409.34,321.42H412.66V324.40H409.34ZM412.66,327.37H415.99V330.35H412.66ZM412.66,318.44H415.99V321.42H412.66ZM412.66,291.66H415.99V294.63H412.66ZM415.99,339.28H419.31V342.26H415.99ZM415.99,327.37H419.31V330.35H415.99ZM415.99,324.40H419.31V327.37H415.99ZM419.31,342.26H422.64V345.23H419.31ZM422.64,345.23H425.96V348.21H422.64ZM422.64,342.26H425.96V345.23H422.64ZM425.96,330.35H429.29V333.33H425.96ZM425.96,315.47H429.29V318.44H425.96ZM425.96,276.77H429.29V279.75H425.96ZM429.29,339.28H432.61V342.26H429.29ZM429.29,318.44H432.61V321.42H429.29ZM429.29,288.68H432.61V291.66H429.29ZM432.61,339.28H435.94V342.26H432.61ZM432.61,324.40H435.94V327.37H432.61ZM432.61,321.42H435.94V324.40H432.61ZM435.94,342.26H439.26V345.23H435.94ZM435.94,339.28H439.26V342.26H435.94ZM435.94,327.37H439.26V330.35H435.94ZM439.26,339.28H442.59V342.26H439.26ZM439.26,333.33H442.59V336.30H439.26ZM442.59,345.23H445.92V348.21H442.59ZM442.59,339.28H445.92V342.26H442.59ZM442.59,276.77H445.92V279.75H442.59ZM445.92,345.23H449.24V348.21H445.92ZM445.92,339.28H449.24V342.26H445.92ZM445.92,327.37H449.24V330.35H445.92ZM449.24,336.30H452.57V339.28H449.24ZM449.24,333.33H452.57V336.30H449.24ZM449.24,297.61H452.57V300.59H449.24ZM452.57,345.23H455.89V348.21H452.57ZM452.57,330.35H455.89V333.33H452.57ZM455.89,348.21H459.22V351.19H455.89ZM455.89,345.23H459.22V348.21H455.89ZM455.89,342.26H459.22V345.23H455.89ZM459.22,348.21H462.54V351.19H459.22ZM459.22,321.42H462.54V324.40H459.22ZM462.54,345.23H465.87V348.21H462.54ZM462.54,342.26H465.87V345.23H462.54ZM462.54,339.28H465.87V342.26H462.54ZM465.87,348.21H469.19V351.19H465.87ZM465.87,345.23H469.19V348.21H465.87ZM469.19,348.21H472.52V351.19H469.19ZM469.19,345.23H472.52V348.21H469.19ZM472.52,348.21H475.85V351.19H472.52Z"/><text class="yl" x="361.4" y="355.09">0</text><text class="yl" x="361.4" y="324.82">20</text><text class="yl" x="361.4" y="294.55">40</text><text class="yl" x="361.4" y="264.28">60</text><text class="xl" x="372.75" y="369.9">0</text><text class="xl" x="401.42" y="369.9">25</text><text class="xl" x="430.09" y="369.9">50</text><text class="xl" x="458.76" y="369.9">75</text><text class="tt" x="424.3" y="382.9">seq</text><text class="tt" transform="translate(345.5,305.05) rotate(-90)">ncontrols</text><text class="yl" x="518.9" y="356.65">0</text><text class="yl" x="518.9" y="325.37">20</text><text class="yl" x="518.9" y="294.09">40</text><text class="yl" x="518.9" y="262.81">60</text><text class="xl" x="529.03" y="369.9">0</text><text class="xl" x="558.4" y="369.9">25</text><text class="xl" x="587.76" y="369.9">50</text><text class="xl" x="617.12" y="369.9">75</text><text class="tt" x="581.3" y="382.9">seq</text><text class="tt" transform="translate(502.3,305.05) rotate(-90)">ncontrols</text><path d="M686.25,351.19V305.05H691.15V258.91H696.05V289.67H700.95V324.27H705.85V335.81H710.75V324.27H715.65V335.81H720.55V339.65H725.45V347.34H730.35V347.34H735.25V351.19H740.15V351.19H745.05V343.50H749.95V347.34H754.85V343.50H759.75V351.19H764.65V343.50H769.55V347.34H774.45V351.19H779.35V351.19H784.25V347.34H789.15V351.19Z" fill="#000" stroke="#000" stroke-width="0.5"/><text class="yl" x="674.9" y="355.09">0</text><text class="yl" x="674.9" y="335.86">5</text><text class="yl" x="674.9" y="316.64">10</text><text class="yl" x="674.9" y="297.42">15</text><text class="yl" x="674.9" y="278.19">20</text><text class="yl" x="674.9" y="258.97">25</text><text class="xl" x="688.7" y="369.9">0</text><text class="xl" x="721.92" y="369.9">20</text><text class="xl" x="755.14" y="369.9">40</text><text class="xl" x="788.37" y="369.9">60</text><text class="tt" x="737.7" y="382.9">ncontrols</text><text class="tt" transform="translate(659.1,305.05) rotate(-90)">count</text><g fill-opacity="0.68"><rect x="850.87" y="258.91" width="1.45" height="92.27" fill="#f5140e"/><rect x="852.47" y="297.36" width="1.45" height="53.83" fill="#e5c377"/><rect x="854.06" y="289.67" width="1.45" height="61.52" fill="#eda962"/><rect x="855.66" y="281.98" width="1.45" height="69.20" fill="#f28f4d"/><rect x="857.25" y="328.12" width="1.45" height="23.07" fill="#82a2ad"/><rect x="858.85" y="297.36" width="1.45" height="53.83" fill="#e5c377"/><rect x="860.44" y="305.05" width="1.45" height="46.14" fill="#d4c889"/><rect x="862.03" y="335.81" width="1.45" height="15.38" fill="#5b96b8"/><rect x="863.63" y="343.50" width="1.45" height="7.69" fill="#008ac2"/><rect x="865.22" y="320.43" width="1.45" height="30.76" fill="#a0aea2"/><rect x="866.82" y="343.50" width="1.45" height="7.69" fill="#008ac2"/><rect x="868.41" y="335.81" width="1.45" height="15.38" fill="#5b96b8"/><rect x="870.01" y="343.50" width="1.45" height="7.69" fill="#008ac2"/><rect x="871.60" y="320.43" width="1.45" height="30.76" fill="#a0aea2"/><rect x="873.19" y="335.81" width="1.45" height="15.38" fill="#5b96b8"/><rect x="874.79" y="343.50" width="1.45" height="7.69" fill="#008ac2"/><rect x="876.38" y="343.50" width="1.45" height="7.69" fill="#008ac2"/><rect x="877.98" y="328.12" width="1.45" height="23.07" fill="#82a2ad"/><rect x="882.76" y="335.81" width="1.45" height="15.38" fill="#5b96b8"/><rect x="884.35" y="343.50" width="1.45" height="7.69" fill="#008ac2"/><rect x="885.95" y="343.50" width="1.45" height="7.69" fill="#008ac2"/><rect x="892.32" y="343.50" width="1.45" height="7.69" fill="#008ac2"/><rect x="903.48" y="343.50" width="1.45" height="7.69" fill="#008ac2"/><rect x="905.08" y="343.50" width="1.45" height="7.69" fill="#008ac2"/><rect x="909.86" y="343.50" width="1.45" height="7.69" fill="#008ac2"/><rect x="913.05" y="335.81" width="1.45" height="15.38" fill="#5b96b8"/><rect x="922.62" y="343.50" width="1.45" height="7.69" fill="#008ac2"/><rect x="925.80" y="343.50" width="1.45" height="7.69" fill="#008ac2"/><rect x="927.40" y="343.50" width="1.45" height="7.69" fill="#008ac2"/><rect x="944.94" y="343.50" width="1.45" height="7.69" fill="#008ac2"/></g><text class="yl" x="839.5" y="355.09">0.0</text><text class="yl" x="839.5" y="335.86">2.5</text><text class="yl" x="839.5" y="316.64">5.0</text><text class="yl" x="839.5" y="297.42">7.5</text><text class="yl" x="839.5" y="278.19">10.0</text><text class="yl" x="839.5" y="258.97">12.5</text><text class="xl" x="850" y="369.9">0</text><text class="xl" x="881.89" y="369.9">20</text><text class="xl" x="913.78" y="369.9">40</text><text class="xl" x="945.66" y="369.9">60</text><text class="tt" x="898.55" y="382.9">ncontrols</text><text class="tt" transform="translate(815.9,305.05) rotate(-90)">count</text><path d="M1007.87,351.19L1007.87,277.83L1008.61,272.14L1009.36,267.32L1010.11,263.52L1010.85,260.83L1011.60,259.31L1012.35,258.92L1013.09,259.63L1013.84,261.32L1014.59,263.87L1015.33,267.12L1016.08,270.92L1016.83,275.11L1017.57,279.52L1018.32,284.02L1019.07,288.46L1019.81,292.74L1020.56,296.77L1021.30,300.48L1022.05,303.82L1022.80,306.78L1023.54,309.35L1024.29,311.56L1025.04,313.43L1025.78,315.03L1026.53,316.40L1027.28,317.60L1028.02,318.68L1028.77,319.70L1029.52,320.70L1030.26,321.71L1031.01,322.75L1031.76,323.83L1032.50,324.95L1033.25,326.10L1034.00,327.27L1034.74,328.45L1035.49,329.62L1036.23,330.77L1036.98,331.89L1037.73,332.98L1038.47,334.03L1039.22,335.05L1039.97,336.05L1040.71,337.03L1041.46,338.00L1042.21,338.95L1042.95,339.90L1043.70,340.82L1044.45,341.72L1045.19,342.58L1045.94,343.40L1046.69,344.17L1047.43,344.88L1048.18,345.53L1048.92,346.11L1049.67,346.63L1050.42,347.07L1051.16,347.44L1051.91,347.73L1052.66,347.95L1053.40,348.09L1054.15,348.15L1054.90,348.12L1055.64,348.01L1056.39,347.82L1057.14,347.56L1057.88,347.24L1058.63,346.87L1059.38,346.47L1060.12,346.05L1060.87,345.63L1061.62,345.23L1062.36,344.85L1063.11,344.50L1063.85,344.19L1064.60,343.93L1065.35,343.72L1066.09,343.56L1066.84,343.45L1067.59,343.41L1068.33,343.44L1069.08,343.53L1069.83,343.69L1070.57,343.92L1071.32,344.19L1072.07,344.50L1072.81,344.83L1073.56,345.15L1074.31,345.44L1075.05,345.68L1075.80,345.86L1076.54,345.96L1077.29,345.98L1078.04,345.93L1078.78,345.82L1079.53,345.66L1080.28,345.49L1081.02,345.33L1081.77,345.21L1082.52,345.14L1083.26,345.15L1084.01,345.26L1084.76,345.45L1085.50,345.73L1086.25,346.10L1087.00,346.53L1087.74,347.00L1088.49,347.49L1089.24,347.99L1089.98,348.46L1090.73,348.90L1091.47,349.28L1092.22,349.60L1092.97,349.86L1093.71,350.04L1094.46,350.15L1095.21,350.19L1095.95,350.17L1096.70,350.10L1097.45,349.99L1098.19,349.84L1098.94,349.68L1099.69,349.52L1100.43,349.36L1101.18,349.23L1101.93,349.13L1102.67,349.08L1103.23,349.06L1103.23,351.19Z" fill="#000" stroke="#000" stroke-width="0.6"/><text class="yl" x="996.9" y="355.09">0.00</text><text class="yl" x="996.9" y="326.87">0.02</text><text class="yl" x="996.9" y="298.66">0.04</text><text class="yl" x="996.9" y="270.44">0.06</text><text class="xl" x="1006.25" y="369.9">0</text><text class="xl" x="1038.58" y="369.9">20</text><text class="xl" x="1070.91" y="369.9">40</text><text class="xl" x="1103.23" y="369.9">60</text><text class="tt" x="1055.55" y="382.9">ncontrols</text><text class="tt" transform="translate(972.7,305.05) rotate(-90)">density</text>
</svg>
</body></html>
